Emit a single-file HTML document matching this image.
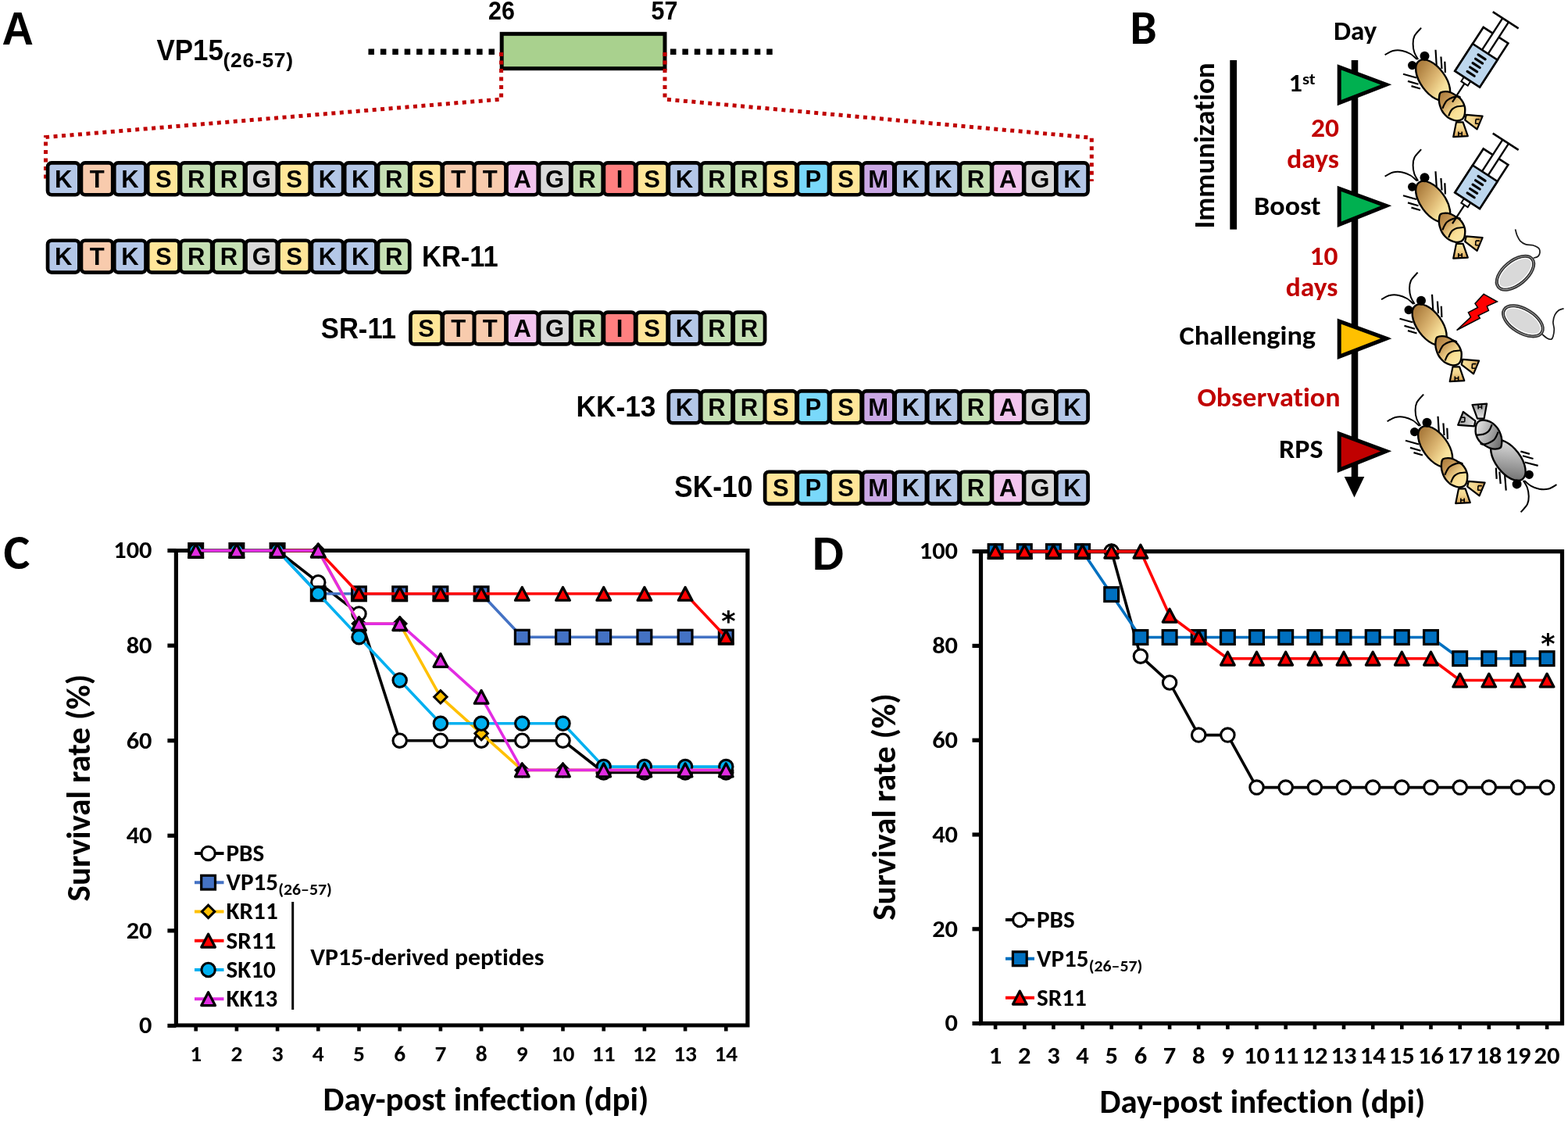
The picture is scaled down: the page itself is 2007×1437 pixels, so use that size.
<!DOCTYPE html>
<html><head><meta charset="utf-8"><title>Figure</title>
<style>
html,body{margin:0;padding:0;background:#fff;}
svg{display:block;font-variant-ligatures:none;}
.res{font-family:"Liberation Sans", Arial, sans-serif;font-weight:bold;font-size:31px;}
</style></head><body>
<svg width="2007" height="1437" viewBox="0 0 2007 1437">
<text transform="translate(2.5,56.5) scale(1,1.07)" font-family='"Liberation Sans", Arial, sans-serif' font-weight="bold" font-size="56" fill="#000" text-anchor="start">A</text>
<text transform="translate(200.5,76.7) scale(0.97,1.05)" font-family='"Liberation Sans", Arial, sans-serif' font-weight="bold" font-size="36">VP15</text>
<text transform="translate(285.5,85.9) scale(1,1.0)" font-family='"Liberation Sans", Arial, sans-serif' font-weight="bold" font-size="26.5" letter-spacing="0.7">(26-57)</text>
<text transform="translate(642,25.2) scale(1,1.08)" font-family='"Liberation Sans", Arial, sans-serif' font-weight="bold" font-size="30.5" fill="#000" text-anchor="middle">26</text>
<text transform="translate(850.5,25.2) scale(1,1.08)" font-family='"Liberation Sans", Arial, sans-serif' font-weight="bold" font-size="30.5" fill="#000" text-anchor="middle">57</text>
<line x1="471.5" y1="66.2" x2="636" y2="66.2" stroke="#000" stroke-width="7.5" stroke-dasharray="7.5 7.9"/>
<line x1="858" y1="66.2" x2="992" y2="66.2" stroke="#000" stroke-width="7.5" stroke-dasharray="7.5 7.9"/>
<rect x="642.2" y="43.3" width="208.8" height="44.4" fill="#A9D18E" stroke="#000" stroke-width="5"/>
<polyline points="641.6,67 641.6,127 58.5,175.5 58.5,232" fill="none" stroke="#C00000" stroke-width="5" stroke-dasharray="5 5.5"/>
<polyline points="851,67 851,127 1397.3,176.3 1397.3,232" fill="none" stroke="#C00000" stroke-width="5" stroke-dasharray="5 5.5"/>
<rect x="61.05" y="208.45" width="40.30" height="40.80" rx="5" fill="#B4C7E7" stroke="#000" stroke-width="4.7"/>
<rect x="103.95" y="208.45" width="40.30" height="40.80" rx="5" fill="#F8CBAD" stroke="#000" stroke-width="4.7"/>
<rect x="146.25" y="208.45" width="40.30" height="40.80" rx="5" fill="#B4C7E7" stroke="#000" stroke-width="4.7"/>
<rect x="189.15" y="208.45" width="40.30" height="40.80" rx="5" fill="#FFE699" stroke="#000" stroke-width="4.7"/>
<rect x="230.95" y="208.45" width="40.30" height="40.80" rx="5" fill="#C5E0B4" stroke="#000" stroke-width="4.7"/>
<rect x="272.75" y="208.45" width="40.30" height="40.80" rx="5" fill="#C5E0B4" stroke="#000" stroke-width="4.7"/>
<rect x="314.55" y="208.45" width="40.30" height="40.80" rx="5" fill="#D9D9D9" stroke="#000" stroke-width="4.7"/>
<rect x="356.45" y="208.45" width="40.30" height="40.80" rx="5" fill="#FFE699" stroke="#000" stroke-width="4.7"/>
<rect x="398.85" y="208.45" width="40.30" height="40.80" rx="5" fill="#B4C7E7" stroke="#000" stroke-width="4.7"/>
<rect x="441.15" y="208.45" width="40.30" height="40.80" rx="5" fill="#B4C7E7" stroke="#000" stroke-width="4.7"/>
<rect x="483.95" y="208.45" width="40.30" height="40.80" rx="5" fill="#C5E0B4" stroke="#000" stroke-width="4.7"/>
<rect x="525.45" y="208.45" width="40.30" height="40.80" rx="5" fill="#FFE699" stroke="#000" stroke-width="4.7"/>
<rect x="566.65" y="208.45" width="40.30" height="40.80" rx="5" fill="#F8CBAD" stroke="#000" stroke-width="4.7"/>
<rect x="607.15" y="208.45" width="40.30" height="40.80" rx="5" fill="#F8CBAD" stroke="#000" stroke-width="4.7"/>
<rect x="648.45" y="208.45" width="40.30" height="40.80" rx="5" fill="#F2C4EE" stroke="#000" stroke-width="4.7"/>
<rect x="689.92" y="208.45" width="40.30" height="40.80" rx="5" fill="#D9D9D9" stroke="#000" stroke-width="4.7"/>
<rect x="731.39" y="208.45" width="40.30" height="40.80" rx="5" fill="#C5E0B4" stroke="#000" stroke-width="4.7"/>
<rect x="772.86" y="208.45" width="40.30" height="40.80" rx="5" fill="#FF8080" stroke="#000" stroke-width="4.7"/>
<rect x="814.34" y="208.45" width="40.30" height="40.80" rx="5" fill="#FFE699" stroke="#000" stroke-width="4.7"/>
<rect x="855.81" y="208.45" width="40.30" height="40.80" rx="5" fill="#B4C7E7" stroke="#000" stroke-width="4.7"/>
<rect x="897.28" y="208.45" width="40.30" height="40.80" rx="5" fill="#C5E0B4" stroke="#000" stroke-width="4.7"/>
<rect x="938.75" y="208.45" width="40.30" height="40.80" rx="5" fill="#C5E0B4" stroke="#000" stroke-width="4.7"/>
<rect x="979.15" y="208.45" width="40.30" height="40.80" rx="5" fill="#FFE699" stroke="#000" stroke-width="4.7"/>
<rect x="1020.77" y="208.45" width="40.30" height="40.80" rx="5" fill="#79D8FA" stroke="#000" stroke-width="4.7"/>
<rect x="1062.38" y="208.45" width="40.30" height="40.80" rx="5" fill="#FFE699" stroke="#000" stroke-width="4.7"/>
<rect x="1104.00" y="208.45" width="40.30" height="40.80" rx="5" fill="#C9A7E4" stroke="#000" stroke-width="4.7"/>
<rect x="1145.62" y="208.45" width="40.30" height="40.80" rx="5" fill="#B4C7E7" stroke="#000" stroke-width="4.7"/>
<rect x="1187.23" y="208.45" width="40.30" height="40.80" rx="5" fill="#B4C7E7" stroke="#000" stroke-width="4.7"/>
<rect x="1228.85" y="208.45" width="40.30" height="40.80" rx="5" fill="#C5E0B4" stroke="#000" stroke-width="4.7"/>
<rect x="1269.95" y="208.45" width="40.30" height="40.80" rx="5" fill="#F2C4EE" stroke="#000" stroke-width="4.7"/>
<rect x="1311.05" y="208.45" width="40.30" height="40.80" rx="5" fill="#D9D9D9" stroke="#000" stroke-width="4.7"/>
<rect x="1352.25" y="208.45" width="40.30" height="40.80" rx="5" fill="#B4C7E7" stroke="#000" stroke-width="4.7"/>
<text x="81.20" y="239.50" text-anchor="middle" class="res">K</text>
<text x="124.10" y="239.50" text-anchor="middle" class="res">T</text>
<text x="166.40" y="239.50" text-anchor="middle" class="res">K</text>
<text x="209.30" y="239.50" text-anchor="middle" class="res">S</text>
<text x="251.10" y="239.50" text-anchor="middle" class="res">R</text>
<text x="292.90" y="239.50" text-anchor="middle" class="res">R</text>
<text x="334.70" y="239.50" text-anchor="middle" class="res">G</text>
<text x="376.60" y="239.50" text-anchor="middle" class="res">S</text>
<text x="419.00" y="239.50" text-anchor="middle" class="res">K</text>
<text x="461.30" y="239.50" text-anchor="middle" class="res">K</text>
<text x="504.10" y="239.50" text-anchor="middle" class="res">R</text>
<text x="545.60" y="239.50" text-anchor="middle" class="res">S</text>
<text x="586.80" y="239.50" text-anchor="middle" class="res">T</text>
<text x="627.30" y="239.50" text-anchor="middle" class="res">T</text>
<text x="668.60" y="239.50" text-anchor="middle" class="res">A</text>
<text x="710.07" y="239.50" text-anchor="middle" class="res">G</text>
<text x="751.54" y="239.50" text-anchor="middle" class="res">R</text>
<text x="793.01" y="239.50" text-anchor="middle" class="res">I</text>
<text x="834.49" y="239.50" text-anchor="middle" class="res">S</text>
<text x="875.96" y="239.50" text-anchor="middle" class="res">K</text>
<text x="917.43" y="239.50" text-anchor="middle" class="res">R</text>
<text x="958.90" y="239.50" text-anchor="middle" class="res">R</text>
<text x="999.30" y="239.50" text-anchor="middle" class="res">S</text>
<text x="1040.92" y="239.50" text-anchor="middle" class="res">P</text>
<text x="1082.53" y="239.50" text-anchor="middle" class="res">S</text>
<text x="1124.15" y="239.50" text-anchor="middle" class="res">M</text>
<text x="1165.77" y="239.50" text-anchor="middle" class="res">K</text>
<text x="1207.38" y="239.50" text-anchor="middle" class="res">K</text>
<text x="1249.00" y="239.50" text-anchor="middle" class="res">R</text>
<text x="1290.10" y="239.50" text-anchor="middle" class="res">A</text>
<text x="1331.20" y="239.50" text-anchor="middle" class="res">G</text>
<text x="1372.40" y="239.50" text-anchor="middle" class="res">K</text>
<rect x="61.05" y="307.75" width="40.30" height="40.80" rx="5" fill="#B4C7E7" stroke="#000" stroke-width="4.7"/>
<rect x="103.95" y="307.75" width="40.30" height="40.80" rx="5" fill="#F8CBAD" stroke="#000" stroke-width="4.7"/>
<rect x="146.25" y="307.75" width="40.30" height="40.80" rx="5" fill="#B4C7E7" stroke="#000" stroke-width="4.7"/>
<rect x="189.15" y="307.75" width="40.30" height="40.80" rx="5" fill="#FFE699" stroke="#000" stroke-width="4.7"/>
<rect x="230.95" y="307.75" width="40.30" height="40.80" rx="5" fill="#C5E0B4" stroke="#000" stroke-width="4.7"/>
<rect x="272.75" y="307.75" width="40.30" height="40.80" rx="5" fill="#C5E0B4" stroke="#000" stroke-width="4.7"/>
<rect x="314.55" y="307.75" width="40.30" height="40.80" rx="5" fill="#D9D9D9" stroke="#000" stroke-width="4.7"/>
<rect x="356.45" y="307.75" width="40.30" height="40.80" rx="5" fill="#FFE699" stroke="#000" stroke-width="4.7"/>
<rect x="398.85" y="307.75" width="40.30" height="40.80" rx="5" fill="#B4C7E7" stroke="#000" stroke-width="4.7"/>
<rect x="441.15" y="307.75" width="40.30" height="40.80" rx="5" fill="#B4C7E7" stroke="#000" stroke-width="4.7"/>
<rect x="483.95" y="307.75" width="40.30" height="40.80" rx="5" fill="#C5E0B4" stroke="#000" stroke-width="4.7"/>
<text x="81.20" y="338.80" text-anchor="middle" class="res">K</text>
<text x="124.10" y="338.80" text-anchor="middle" class="res">T</text>
<text x="166.40" y="338.80" text-anchor="middle" class="res">K</text>
<text x="209.30" y="338.80" text-anchor="middle" class="res">S</text>
<text x="251.10" y="338.80" text-anchor="middle" class="res">R</text>
<text x="292.90" y="338.80" text-anchor="middle" class="res">R</text>
<text x="334.70" y="338.80" text-anchor="middle" class="res">G</text>
<text x="376.60" y="338.80" text-anchor="middle" class="res">S</text>
<text x="419.00" y="338.80" text-anchor="middle" class="res">K</text>
<text x="461.30" y="338.80" text-anchor="middle" class="res">K</text>
<text x="504.10" y="338.80" text-anchor="middle" class="res">R</text>
<text transform="translate(540,340.9) scale(1,1.07)" font-family='"Liberation Sans", Arial, sans-serif' font-weight="bold" font-size="34.5" fill="#000" text-anchor="start">KR-11</text>
<rect x="525.45" y="399.65" width="40.30" height="40.80" rx="5" fill="#FFE699" stroke="#000" stroke-width="4.7"/>
<rect x="566.65" y="399.65" width="40.30" height="40.80" rx="5" fill="#F8CBAD" stroke="#000" stroke-width="4.7"/>
<rect x="607.15" y="399.65" width="40.30" height="40.80" rx="5" fill="#F8CBAD" stroke="#000" stroke-width="4.7"/>
<rect x="648.45" y="399.65" width="40.30" height="40.80" rx="5" fill="#F2C4EE" stroke="#000" stroke-width="4.7"/>
<rect x="689.92" y="399.65" width="40.30" height="40.80" rx="5" fill="#D9D9D9" stroke="#000" stroke-width="4.7"/>
<rect x="731.39" y="399.65" width="40.30" height="40.80" rx="5" fill="#C5E0B4" stroke="#000" stroke-width="4.7"/>
<rect x="772.86" y="399.65" width="40.30" height="40.80" rx="5" fill="#FF8080" stroke="#000" stroke-width="4.7"/>
<rect x="814.34" y="399.65" width="40.30" height="40.80" rx="5" fill="#FFE699" stroke="#000" stroke-width="4.7"/>
<rect x="855.81" y="399.65" width="40.30" height="40.80" rx="5" fill="#B4C7E7" stroke="#000" stroke-width="4.7"/>
<rect x="897.28" y="399.65" width="40.30" height="40.80" rx="5" fill="#C5E0B4" stroke="#000" stroke-width="4.7"/>
<rect x="938.75" y="399.65" width="40.30" height="40.80" rx="5" fill="#C5E0B4" stroke="#000" stroke-width="4.7"/>
<text x="545.60" y="430.70" text-anchor="middle" class="res">S</text>
<text x="586.80" y="430.70" text-anchor="middle" class="res">T</text>
<text x="627.30" y="430.70" text-anchor="middle" class="res">T</text>
<text x="668.60" y="430.70" text-anchor="middle" class="res">A</text>
<text x="710.07" y="430.70" text-anchor="middle" class="res">G</text>
<text x="751.54" y="430.70" text-anchor="middle" class="res">R</text>
<text x="793.01" y="430.70" text-anchor="middle" class="res">I</text>
<text x="834.49" y="430.70" text-anchor="middle" class="res">S</text>
<text x="875.96" y="430.70" text-anchor="middle" class="res">K</text>
<text x="917.43" y="430.70" text-anchor="middle" class="res">R</text>
<text x="958.90" y="430.70" text-anchor="middle" class="res">R</text>
<text transform="translate(410.8,432.7) scale(1,1.07)" font-family='"Liberation Sans", Arial, sans-serif' font-weight="bold" font-size="34.6" fill="#000" text-anchor="start">SR-11</text>
<rect x="855.81" y="500.45" width="40.30" height="40.80" rx="5" fill="#B4C7E7" stroke="#000" stroke-width="4.7"/>
<rect x="897.28" y="500.45" width="40.30" height="40.80" rx="5" fill="#C5E0B4" stroke="#000" stroke-width="4.7"/>
<rect x="938.75" y="500.45" width="40.30" height="40.80" rx="5" fill="#C5E0B4" stroke="#000" stroke-width="4.7"/>
<rect x="979.15" y="500.45" width="40.30" height="40.80" rx="5" fill="#FFE699" stroke="#000" stroke-width="4.7"/>
<rect x="1020.77" y="500.45" width="40.30" height="40.80" rx="5" fill="#79D8FA" stroke="#000" stroke-width="4.7"/>
<rect x="1062.38" y="500.45" width="40.30" height="40.80" rx="5" fill="#FFE699" stroke="#000" stroke-width="4.7"/>
<rect x="1104.00" y="500.45" width="40.30" height="40.80" rx="5" fill="#C9A7E4" stroke="#000" stroke-width="4.7"/>
<rect x="1145.62" y="500.45" width="40.30" height="40.80" rx="5" fill="#B4C7E7" stroke="#000" stroke-width="4.7"/>
<rect x="1187.23" y="500.45" width="40.30" height="40.80" rx="5" fill="#B4C7E7" stroke="#000" stroke-width="4.7"/>
<rect x="1228.85" y="500.45" width="40.30" height="40.80" rx="5" fill="#C5E0B4" stroke="#000" stroke-width="4.7"/>
<rect x="1269.95" y="500.45" width="40.30" height="40.80" rx="5" fill="#F2C4EE" stroke="#000" stroke-width="4.7"/>
<rect x="1311.05" y="500.45" width="40.30" height="40.80" rx="5" fill="#D9D9D9" stroke="#000" stroke-width="4.7"/>
<rect x="1352.25" y="500.45" width="40.30" height="40.80" rx="5" fill="#B4C7E7" stroke="#000" stroke-width="4.7"/>
<text x="875.96" y="531.50" text-anchor="middle" class="res">K</text>
<text x="917.43" y="531.50" text-anchor="middle" class="res">R</text>
<text x="958.90" y="531.50" text-anchor="middle" class="res">R</text>
<text x="999.30" y="531.50" text-anchor="middle" class="res">S</text>
<text x="1040.92" y="531.50" text-anchor="middle" class="res">P</text>
<text x="1082.53" y="531.50" text-anchor="middle" class="res">S</text>
<text x="1124.15" y="531.50" text-anchor="middle" class="res">M</text>
<text x="1165.77" y="531.50" text-anchor="middle" class="res">K</text>
<text x="1207.38" y="531.50" text-anchor="middle" class="res">K</text>
<text x="1249.00" y="531.50" text-anchor="middle" class="res">R</text>
<text x="1290.10" y="531.50" text-anchor="middle" class="res">A</text>
<text x="1331.20" y="531.50" text-anchor="middle" class="res">G</text>
<text x="1372.40" y="531.50" text-anchor="middle" class="res">K</text>
<text transform="translate(737.5,533.4) scale(1,1.07)" font-family='"Liberation Sans", Arial, sans-serif' font-weight="bold" font-size="35.3" fill="#000" text-anchor="start">KK-13</text>
<rect x="979.15" y="603.75" width="40.30" height="40.80" rx="5" fill="#FFE699" stroke="#000" stroke-width="4.7"/>
<rect x="1020.77" y="603.75" width="40.30" height="40.80" rx="5" fill="#79D8FA" stroke="#000" stroke-width="4.7"/>
<rect x="1062.38" y="603.75" width="40.30" height="40.80" rx="5" fill="#FFE699" stroke="#000" stroke-width="4.7"/>
<rect x="1104.00" y="603.75" width="40.30" height="40.80" rx="5" fill="#C9A7E4" stroke="#000" stroke-width="4.7"/>
<rect x="1145.62" y="603.75" width="40.30" height="40.80" rx="5" fill="#B4C7E7" stroke="#000" stroke-width="4.7"/>
<rect x="1187.23" y="603.75" width="40.30" height="40.80" rx="5" fill="#B4C7E7" stroke="#000" stroke-width="4.7"/>
<rect x="1228.85" y="603.75" width="40.30" height="40.80" rx="5" fill="#C5E0B4" stroke="#000" stroke-width="4.7"/>
<rect x="1269.95" y="603.75" width="40.30" height="40.80" rx="5" fill="#F2C4EE" stroke="#000" stroke-width="4.7"/>
<rect x="1311.05" y="603.75" width="40.30" height="40.80" rx="5" fill="#D9D9D9" stroke="#000" stroke-width="4.7"/>
<rect x="1352.25" y="603.75" width="40.30" height="40.80" rx="5" fill="#B4C7E7" stroke="#000" stroke-width="4.7"/>
<text x="999.30" y="634.80" text-anchor="middle" class="res">S</text>
<text x="1040.92" y="634.80" text-anchor="middle" class="res">P</text>
<text x="1082.53" y="634.80" text-anchor="middle" class="res">S</text>
<text x="1124.15" y="634.80" text-anchor="middle" class="res">M</text>
<text x="1165.77" y="634.80" text-anchor="middle" class="res">K</text>
<text x="1207.38" y="634.80" text-anchor="middle" class="res">K</text>
<text x="1249.00" y="634.80" text-anchor="middle" class="res">R</text>
<text x="1290.10" y="634.80" text-anchor="middle" class="res">A</text>
<text x="1331.20" y="634.80" text-anchor="middle" class="res">G</text>
<text x="1372.40" y="634.80" text-anchor="middle" class="res">K</text>
<text transform="translate(863,635.6) scale(1,1.07)" font-family='"Liberation Sans", Arial, sans-serif' font-weight="bold" font-size="35.5" fill="#000" text-anchor="start">SK-10</text>
<text textLength="32.82" lengthAdjust="spacingAndGlyphs" transform="translate(4.5,727.5) scale(1.03,1)" font-family='Carlito, Calibri, "Liberation Sans", sans-serif' font-weight="bold" font-size="62" fill="#000" text-anchor="start">C</text>
<path d="M225.4,1312 L225.4,704.5 L956.9,704.5 L956.9,1312 Z" fill="none" stroke="#000" stroke-width="5.2"/>
<line x1="214.4" y1="1312.5" x2="225.4" y2="1312.5" stroke="#000" stroke-width="5.2"/>
<text textLength="15.21" lengthAdjust="spacingAndGlyphs" transform="translate(194.5,1322.3) scale(1.08,1)" font-family='Carlito, Calibri, "Liberation Sans", sans-serif' font-weight="bold" font-size="30" fill="#000" text-anchor="end">0</text>
<line x1="214.4" y1="1190.9" x2="225.4" y2="1190.9" stroke="#000" stroke-width="5.2"/>
<text textLength="30.42" lengthAdjust="spacingAndGlyphs" transform="translate(194.5,1200.7) scale(1.08,1)" font-family='Carlito, Calibri, "Liberation Sans", sans-serif' font-weight="bold" font-size="30" fill="#000" text-anchor="end">20</text>
<line x1="214.4" y1="1069.3" x2="225.4" y2="1069.3" stroke="#000" stroke-width="5.2"/>
<text textLength="30.42" lengthAdjust="spacingAndGlyphs" transform="translate(194.5,1079.1) scale(1.08,1)" font-family='Carlito, Calibri, "Liberation Sans", sans-serif' font-weight="bold" font-size="30" fill="#000" text-anchor="end">40</text>
<line x1="214.4" y1="947.7" x2="225.4" y2="947.7" stroke="#000" stroke-width="5.2"/>
<text textLength="30.42" lengthAdjust="spacingAndGlyphs" transform="translate(194.5,957.5) scale(1.08,1)" font-family='Carlito, Calibri, "Liberation Sans", sans-serif' font-weight="bold" font-size="30" fill="#000" text-anchor="end">60</text>
<line x1="214.4" y1="826.1" x2="225.4" y2="826.1" stroke="#000" stroke-width="5.2"/>
<text textLength="30.42" lengthAdjust="spacingAndGlyphs" transform="translate(194.5,835.9) scale(1.08,1)" font-family='Carlito, Calibri, "Liberation Sans", sans-serif' font-weight="bold" font-size="30" fill="#000" text-anchor="end">80</text>
<line x1="214.4" y1="704.5" x2="225.4" y2="704.5" stroke="#000" stroke-width="5.2"/>
<text textLength="45.61" lengthAdjust="spacingAndGlyphs" transform="translate(194.5,714.3) scale(1.08,1)" font-family='Carlito, Calibri, "Liberation Sans", sans-serif' font-weight="bold" font-size="30" fill="#000" text-anchor="end">100</text>
<line x1="250.7" y1="1312" x2="250.7" y2="1319.5" stroke="#000" stroke-width="4.6"/>
<text textLength="14.19" lengthAdjust="spacingAndGlyphs" transform="translate(250.7,1357.5) scale(1.05,1)" font-family='Carlito, Calibri, "Liberation Sans", sans-serif' font-weight="bold" font-size="28" fill="#000" text-anchor="middle">1</text>
<line x1="302.9" y1="1312" x2="302.9" y2="1319.5" stroke="#000" stroke-width="4.6"/>
<text textLength="14.19" lengthAdjust="spacingAndGlyphs" transform="translate(302.9,1357.5) scale(1.05,1)" font-family='Carlito, Calibri, "Liberation Sans", sans-serif' font-weight="bold" font-size="28" fill="#000" text-anchor="middle">2</text>
<line x1="355.1" y1="1312" x2="355.1" y2="1319.5" stroke="#000" stroke-width="4.6"/>
<text textLength="14.19" lengthAdjust="spacingAndGlyphs" transform="translate(355.1,1357.5) scale(1.05,1)" font-family='Carlito, Calibri, "Liberation Sans", sans-serif' font-weight="bold" font-size="28" fill="#000" text-anchor="middle">3</text>
<line x1="407.3" y1="1312" x2="407.3" y2="1319.5" stroke="#000" stroke-width="4.6"/>
<text textLength="14.19" lengthAdjust="spacingAndGlyphs" transform="translate(407.3,1357.5) scale(1.05,1)" font-family='Carlito, Calibri, "Liberation Sans", sans-serif' font-weight="bold" font-size="28" fill="#000" text-anchor="middle">4</text>
<line x1="459.5" y1="1312" x2="459.5" y2="1319.5" stroke="#000" stroke-width="4.6"/>
<text textLength="14.19" lengthAdjust="spacingAndGlyphs" transform="translate(459.5,1357.5) scale(1.05,1)" font-family='Carlito, Calibri, "Liberation Sans", sans-serif' font-weight="bold" font-size="28" fill="#000" text-anchor="middle">5</text>
<line x1="511.7" y1="1312" x2="511.7" y2="1319.5" stroke="#000" stroke-width="4.6"/>
<text textLength="14.19" lengthAdjust="spacingAndGlyphs" transform="translate(511.7,1357.5) scale(1.05,1)" font-family='Carlito, Calibri, "Liberation Sans", sans-serif' font-weight="bold" font-size="28" fill="#000" text-anchor="middle">6</text>
<line x1="563.9" y1="1312" x2="563.9" y2="1319.5" stroke="#000" stroke-width="4.6"/>
<text textLength="14.19" lengthAdjust="spacingAndGlyphs" transform="translate(563.9,1357.5) scale(1.05,1)" font-family='Carlito, Calibri, "Liberation Sans", sans-serif' font-weight="bold" font-size="28" fill="#000" text-anchor="middle">7</text>
<line x1="616.1" y1="1312" x2="616.1" y2="1319.5" stroke="#000" stroke-width="4.6"/>
<text textLength="14.19" lengthAdjust="spacingAndGlyphs" transform="translate(616.1,1357.5) scale(1.05,1)" font-family='Carlito, Calibri, "Liberation Sans", sans-serif' font-weight="bold" font-size="28" fill="#000" text-anchor="middle">8</text>
<line x1="668.3" y1="1312" x2="668.3" y2="1319.5" stroke="#000" stroke-width="4.6"/>
<text textLength="14.19" lengthAdjust="spacingAndGlyphs" transform="translate(668.3,1357.5) scale(1.05,1)" font-family='Carlito, Calibri, "Liberation Sans", sans-serif' font-weight="bold" font-size="28" fill="#000" text-anchor="middle">9</text>
<line x1="720.5" y1="1312" x2="720.5" y2="1319.5" stroke="#000" stroke-width="4.6"/>
<text textLength="28.38" lengthAdjust="spacingAndGlyphs" transform="translate(720.5,1357.5) scale(1.05,1)" font-family='Carlito, Calibri, "Liberation Sans", sans-serif' font-weight="bold" font-size="28" fill="#000" text-anchor="middle">10</text>
<line x1="772.7" y1="1312" x2="772.7" y2="1319.5" stroke="#000" stroke-width="4.6"/>
<text textLength="28.38" lengthAdjust="spacingAndGlyphs" transform="translate(772.7,1357.5) scale(1.05,1)" font-family='Carlito, Calibri, "Liberation Sans", sans-serif' font-weight="bold" font-size="28" fill="#000" text-anchor="middle">11</text>
<line x1="824.9" y1="1312" x2="824.9" y2="1319.5" stroke="#000" stroke-width="4.6"/>
<text textLength="28.38" lengthAdjust="spacingAndGlyphs" transform="translate(824.9,1357.5) scale(1.05,1)" font-family='Carlito, Calibri, "Liberation Sans", sans-serif' font-weight="bold" font-size="28" fill="#000" text-anchor="middle">12</text>
<line x1="877.1" y1="1312" x2="877.1" y2="1319.5" stroke="#000" stroke-width="4.6"/>
<text textLength="28.38" lengthAdjust="spacingAndGlyphs" transform="translate(877.1,1357.5) scale(1.05,1)" font-family='Carlito, Calibri, "Liberation Sans", sans-serif' font-weight="bold" font-size="28" fill="#000" text-anchor="middle">13</text>
<line x1="929.3" y1="1312" x2="929.3" y2="1319.5" stroke="#000" stroke-width="4.6"/>
<text textLength="28.38" lengthAdjust="spacingAndGlyphs" transform="translate(929.3,1357.5) scale(1.05,1)" font-family='Carlito, Calibri, "Liberation Sans", sans-serif' font-weight="bold" font-size="28" fill="#000" text-anchor="middle">14</text>
<text textLength="283.42" lengthAdjust="spacingAndGlyphs" transform="translate(115,1008.2) rotate(-90) scale(1.025,1)" font-family='Carlito, Calibri, "Liberation Sans", sans-serif' font-weight="bold" font-size="42" fill="#000" text-anchor="middle">Survival rate (%)</text>
<text textLength="408.74" lengthAdjust="spacingAndGlyphs" transform="translate(622,1421) scale(1.02,1)" font-family='Carlito, Calibri, "Liberation Sans", sans-serif' font-weight="bold" font-size="42" fill="#000" text-anchor="middle">Day-post infection (dpi)</text>
<polyline points="250.7,704.5 302.9,704.5 355.1,704.5 407.3,745.2 459.5,785.4 511.7,947.7 563.9,947.7 616.1,947.7 668.3,947.7 720.5,947.7 772.7,988.4 824.9,988.4 877.1,988.4 929.3,988.4" fill="none" stroke="#000" stroke-width="3.6" stroke-linejoin="round"/>
<circle cx="250.7" cy="704.5" r="8.7" fill="#fff" stroke="#000" stroke-width="3.1"/>
<circle cx="302.9" cy="704.5" r="8.7" fill="#fff" stroke="#000" stroke-width="3.1"/>
<circle cx="355.1" cy="704.5" r="8.7" fill="#fff" stroke="#000" stroke-width="3.1"/>
<circle cx="407.3" cy="745.2" r="8.7" fill="#fff" stroke="#000" stroke-width="3.1"/>
<circle cx="459.5" cy="785.4" r="8.7" fill="#fff" stroke="#000" stroke-width="3.1"/>
<circle cx="511.7" cy="947.7" r="8.7" fill="#fff" stroke="#000" stroke-width="3.1"/>
<circle cx="563.9" cy="947.7" r="8.7" fill="#fff" stroke="#000" stroke-width="3.1"/>
<circle cx="616.1" cy="947.7" r="8.7" fill="#fff" stroke="#000" stroke-width="3.1"/>
<circle cx="668.3" cy="947.7" r="8.7" fill="#fff" stroke="#000" stroke-width="3.1"/>
<circle cx="720.5" cy="947.7" r="8.7" fill="#fff" stroke="#000" stroke-width="3.1"/>
<circle cx="772.7" cy="988.4" r="8.7" fill="#fff" stroke="#000" stroke-width="3.1"/>
<circle cx="824.9" cy="988.4" r="8.7" fill="#fff" stroke="#000" stroke-width="3.1"/>
<circle cx="877.1" cy="988.4" r="8.7" fill="#fff" stroke="#000" stroke-width="3.1"/>
<circle cx="929.3" cy="988.4" r="8.7" fill="#fff" stroke="#000" stroke-width="3.1"/>
<polyline points="250.7,704.5 302.9,704.5 355.1,704.5 407.3,759.8 459.5,759.8 511.7,759.8 563.9,759.8 616.1,759.8 668.3,815.2 720.5,815.2 772.7,815.2 824.9,815.2 877.1,815.2 929.3,815.2" fill="none" stroke="#4472C4" stroke-width="3.6" stroke-linejoin="round"/>
<rect x="241.8" y="695.6" width="17.8" height="17.8" fill="#4472C4" stroke="#000" stroke-width="3.2"/>
<rect x="294.0" y="695.6" width="17.8" height="17.8" fill="#4472C4" stroke="#000" stroke-width="3.2"/>
<rect x="346.2" y="695.6" width="17.8" height="17.8" fill="#4472C4" stroke="#000" stroke-width="3.2"/>
<rect x="398.4" y="750.9" width="17.8" height="17.8" fill="#4472C4" stroke="#000" stroke-width="3.2"/>
<rect x="450.6" y="750.9" width="17.8" height="17.8" fill="#4472C4" stroke="#000" stroke-width="3.2"/>
<rect x="502.8" y="750.9" width="17.8" height="17.8" fill="#4472C4" stroke="#000" stroke-width="3.2"/>
<rect x="555.0" y="750.9" width="17.8" height="17.8" fill="#4472C4" stroke="#000" stroke-width="3.2"/>
<rect x="607.2" y="750.9" width="17.8" height="17.8" fill="#4472C4" stroke="#000" stroke-width="3.2"/>
<rect x="659.4" y="806.3" width="17.8" height="17.8" fill="#4472C4" stroke="#000" stroke-width="3.2"/>
<rect x="711.6" y="806.3" width="17.8" height="17.8" fill="#4472C4" stroke="#000" stroke-width="3.2"/>
<rect x="763.8" y="806.3" width="17.8" height="17.8" fill="#4472C4" stroke="#000" stroke-width="3.2"/>
<rect x="816.0" y="806.3" width="17.8" height="17.8" fill="#4472C4" stroke="#000" stroke-width="3.2"/>
<rect x="868.2" y="806.3" width="17.8" height="17.8" fill="#4472C4" stroke="#000" stroke-width="3.2"/>
<rect x="920.4" y="806.3" width="17.8" height="17.8" fill="#4472C4" stroke="#000" stroke-width="3.2"/>
<polyline points="250.7,704.5 302.9,704.5 355.1,704.5 407.3,704.5 459.5,798.1 511.7,798.1 563.9,891.8 616.1,938.6 668.3,985.4 720.5,985.4 772.7,985.4 824.9,985.4 877.1,985.4 929.3,985.4" fill="none" stroke="#FFC000" stroke-width="3.6" stroke-linejoin="round"/>
<path d="M250.7,696.3 L258.9,704.5 L250.7,712.7 L242.5,704.5 Z" fill="#FFC000" stroke="#000" stroke-width="3"/>
<path d="M302.9,696.3 L311.1,704.5 L302.9,712.7 L294.7,704.5 Z" fill="#FFC000" stroke="#000" stroke-width="3"/>
<path d="M355.1,696.3 L363.3,704.5 L355.1,712.7 L346.9,704.5 Z" fill="#FFC000" stroke="#000" stroke-width="3"/>
<path d="M407.3,696.3 L415.5,704.5 L407.3,712.7 L399.1,704.5 Z" fill="#FFC000" stroke="#000" stroke-width="3"/>
<path d="M459.5,789.9 L467.7,798.1 L459.5,806.3 L451.3,798.1 Z" fill="#FFC000" stroke="#000" stroke-width="3"/>
<path d="M511.7,789.9 L519.9,798.1 L511.7,806.3 L503.5,798.1 Z" fill="#FFC000" stroke="#000" stroke-width="3"/>
<path d="M563.9,883.6 L572.1,891.8 L563.9,900.0 L555.7,891.8 Z" fill="#FFC000" stroke="#000" stroke-width="3"/>
<path d="M616.1,930.4 L624.3,938.6 L616.1,946.8 L607.9,938.6 Z" fill="#FFC000" stroke="#000" stroke-width="3"/>
<path d="M668.3,977.2 L676.5,985.4 L668.3,993.6 L660.1,985.4 Z" fill="#FFC000" stroke="#000" stroke-width="3"/>
<path d="M720.5,977.2 L728.7,985.4 L720.5,993.6 L712.3,985.4 Z" fill="#FFC000" stroke="#000" stroke-width="3"/>
<path d="M772.7,977.2 L780.9,985.4 L772.7,993.6 L764.5,985.4 Z" fill="#FFC000" stroke="#000" stroke-width="3"/>
<path d="M824.9,977.2 L833.1,985.4 L824.9,993.6 L816.7,985.4 Z" fill="#FFC000" stroke="#000" stroke-width="3"/>
<path d="M877.1,977.2 L885.3,985.4 L877.1,993.6 L868.9,985.4 Z" fill="#FFC000" stroke="#000" stroke-width="3"/>
<path d="M929.3,977.2 L937.5,985.4 L929.3,993.6 L921.1,985.4 Z" fill="#FFC000" stroke="#000" stroke-width="3"/>
<polyline points="250.7,704.5 302.9,704.5 355.1,704.5 407.3,704.5 459.5,759.8 511.7,759.8 563.9,759.8 616.1,759.8 668.3,759.8 720.5,759.8 772.7,759.8 824.9,759.8 877.1,759.8 929.3,815.2" fill="none" stroke="#FF0000" stroke-width="3.6" stroke-linejoin="round"/>
<path d="M250.7,696.1 L259.5,712.9 L241.9,712.9 Z" fill="#FF0000" stroke="#000" stroke-width="3.3" stroke-linejoin="round"/>
<path d="M302.9,696.1 L311.7,712.9 L294.1,712.9 Z" fill="#FF0000" stroke="#000" stroke-width="3.3" stroke-linejoin="round"/>
<path d="M355.1,696.1 L363.9,712.9 L346.3,712.9 Z" fill="#FF0000" stroke="#000" stroke-width="3.3" stroke-linejoin="round"/>
<path d="M407.3,696.1 L416.1,712.9 L398.5,712.9 Z" fill="#FF0000" stroke="#000" stroke-width="3.3" stroke-linejoin="round"/>
<path d="M459.5,751.4 L468.3,768.2 L450.7,768.2 Z" fill="#FF0000" stroke="#000" stroke-width="3.3" stroke-linejoin="round"/>
<path d="M511.7,751.4 L520.5,768.2 L502.9,768.2 Z" fill="#FF0000" stroke="#000" stroke-width="3.3" stroke-linejoin="round"/>
<path d="M563.9,751.4 L572.7,768.2 L555.1,768.2 Z" fill="#FF0000" stroke="#000" stroke-width="3.3" stroke-linejoin="round"/>
<path d="M616.1,751.4 L624.9,768.2 L607.3,768.2 Z" fill="#FF0000" stroke="#000" stroke-width="3.3" stroke-linejoin="round"/>
<path d="M668.3,751.4 L677.1,768.2 L659.5,768.2 Z" fill="#FF0000" stroke="#000" stroke-width="3.3" stroke-linejoin="round"/>
<path d="M720.5,751.4 L729.3,768.2 L711.7,768.2 Z" fill="#FF0000" stroke="#000" stroke-width="3.3" stroke-linejoin="round"/>
<path d="M772.7,751.4 L781.5,768.2 L763.9,768.2 Z" fill="#FF0000" stroke="#000" stroke-width="3.3" stroke-linejoin="round"/>
<path d="M824.9,751.4 L833.7,768.2 L816.1,768.2 Z" fill="#FF0000" stroke="#000" stroke-width="3.3" stroke-linejoin="round"/>
<path d="M877.1,751.4 L885.9,768.2 L868.3,768.2 Z" fill="#FF0000" stroke="#000" stroke-width="3.3" stroke-linejoin="round"/>
<path d="M929.3,806.8 L938.1,823.6 L920.5,823.6 Z" fill="#FF0000" stroke="#000" stroke-width="3.3" stroke-linejoin="round"/>
<polyline points="250.7,704.5 302.9,704.5 355.1,704.5 407.3,759.8 459.5,815.2 511.7,870.5 563.9,925.8 616.1,925.8 668.3,925.8 720.5,925.8 772.7,981.1 824.9,981.1 877.1,981.1 929.3,981.1" fill="none" stroke="#00B0F0" stroke-width="3.6" stroke-linejoin="round"/>
<circle cx="250.7" cy="704.5" r="8.7" fill="#00B0F0" stroke="#000" stroke-width="3.1"/>
<circle cx="302.9" cy="704.5" r="8.7" fill="#00B0F0" stroke="#000" stroke-width="3.1"/>
<circle cx="355.1" cy="704.5" r="8.7" fill="#00B0F0" stroke="#000" stroke-width="3.1"/>
<circle cx="407.3" cy="759.8" r="8.7" fill="#00B0F0" stroke="#000" stroke-width="3.1"/>
<circle cx="459.5" cy="815.2" r="8.7" fill="#00B0F0" stroke="#000" stroke-width="3.1"/>
<circle cx="511.7" cy="870.5" r="8.7" fill="#00B0F0" stroke="#000" stroke-width="3.1"/>
<circle cx="563.9" cy="925.8" r="8.7" fill="#00B0F0" stroke="#000" stroke-width="3.1"/>
<circle cx="616.1" cy="925.8" r="8.7" fill="#00B0F0" stroke="#000" stroke-width="3.1"/>
<circle cx="668.3" cy="925.8" r="8.7" fill="#00B0F0" stroke="#000" stroke-width="3.1"/>
<circle cx="720.5" cy="925.8" r="8.7" fill="#00B0F0" stroke="#000" stroke-width="3.1"/>
<circle cx="772.7" cy="981.1" r="8.7" fill="#00B0F0" stroke="#000" stroke-width="3.1"/>
<circle cx="824.9" cy="981.1" r="8.7" fill="#00B0F0" stroke="#000" stroke-width="3.1"/>
<circle cx="877.1" cy="981.1" r="8.7" fill="#00B0F0" stroke="#000" stroke-width="3.1"/>
<circle cx="929.3" cy="981.1" r="8.7" fill="#00B0F0" stroke="#000" stroke-width="3.1"/>
<polyline points="250.7,704.5 302.9,704.5 355.1,704.5 407.3,704.5 459.5,798.1 511.7,798.1 563.9,844.9 616.1,891.8 668.3,985.4 720.5,985.4 772.7,985.4 824.9,985.4 877.1,985.4 929.3,985.4" fill="none" stroke="#E22CE2" stroke-width="3.6" stroke-linejoin="round"/>
<path d="M250.7,696.1 L259.5,712.9 L241.9,712.9 Z" fill="#E22CE2" stroke="#000" stroke-width="3.3" stroke-linejoin="round"/>
<path d="M302.9,696.1 L311.7,712.9 L294.1,712.9 Z" fill="#E22CE2" stroke="#000" stroke-width="3.3" stroke-linejoin="round"/>
<path d="M355.1,696.1 L363.9,712.9 L346.3,712.9 Z" fill="#E22CE2" stroke="#000" stroke-width="3.3" stroke-linejoin="round"/>
<path d="M407.3,696.1 L416.1,712.9 L398.5,712.9 Z" fill="#E22CE2" stroke="#000" stroke-width="3.3" stroke-linejoin="round"/>
<path d="M459.5,789.7 L468.3,806.5 L450.7,806.5 Z" fill="#E22CE2" stroke="#000" stroke-width="3.3" stroke-linejoin="round"/>
<path d="M511.7,789.7 L520.5,806.5 L502.9,806.5 Z" fill="#E22CE2" stroke="#000" stroke-width="3.3" stroke-linejoin="round"/>
<path d="M563.9,836.5 L572.7,853.3 L555.1,853.3 Z" fill="#E22CE2" stroke="#000" stroke-width="3.3" stroke-linejoin="round"/>
<path d="M616.1,883.4 L624.9,900.2 L607.3,900.2 Z" fill="#E22CE2" stroke="#000" stroke-width="3.3" stroke-linejoin="round"/>
<path d="M668.3,977.0 L677.1,993.8 L659.5,993.8 Z" fill="#E22CE2" stroke="#000" stroke-width="3.3" stroke-linejoin="round"/>
<path d="M720.5,977.0 L729.3,993.8 L711.7,993.8 Z" fill="#E22CE2" stroke="#000" stroke-width="3.3" stroke-linejoin="round"/>
<path d="M772.7,977.0 L781.5,993.8 L763.9,993.8 Z" fill="#E22CE2" stroke="#000" stroke-width="3.3" stroke-linejoin="round"/>
<path d="M824.9,977.0 L833.7,993.8 L816.1,993.8 Z" fill="#E22CE2" stroke="#000" stroke-width="3.3" stroke-linejoin="round"/>
<path d="M877.1,977.0 L885.9,993.8 L868.3,993.8 Z" fill="#E22CE2" stroke="#000" stroke-width="3.3" stroke-linejoin="round"/>
<path d="M929.3,977.0 L938.1,993.8 L920.5,993.8 Z" fill="#E22CE2" stroke="#000" stroke-width="3.3" stroke-linejoin="round"/>
<text x="932.5" y="807.4" text-anchor="middle" font-family="DejaVu Sans, sans-serif" font-weight="bold" font-size="35">*</text>
<text textLength="39.08" lengthAdjust="spacingAndGlyphs" transform="translate(1039.7,728.5) scale(1.03,1)" font-family='Carlito, Calibri, "Liberation Sans", sans-serif' font-weight="bold" font-size="62" fill="#000" text-anchor="start">D</text>
<path d="M1255.5,1309.6 L1255.5,705.6 L1999.5,705.6 L1999.5,1309.6 Z" fill="none" stroke="#000" stroke-width="5.2"/>
<line x1="1244.5" y1="1309.6" x2="1255.5" y2="1309.6" stroke="#000" stroke-width="5.2"/>
<text textLength="15.21" lengthAdjust="spacingAndGlyphs" transform="translate(1226,1319.4) scale(1.08,1)" font-family='Carlito, Calibri, "Liberation Sans", sans-serif' font-weight="bold" font-size="30" fill="#000" text-anchor="end">0</text>
<line x1="1244.5" y1="1188.8" x2="1255.5" y2="1188.8" stroke="#000" stroke-width="5.2"/>
<text textLength="30.42" lengthAdjust="spacingAndGlyphs" transform="translate(1226,1198.6) scale(1.08,1)" font-family='Carlito, Calibri, "Liberation Sans", sans-serif' font-weight="bold" font-size="30" fill="#000" text-anchor="end">20</text>
<line x1="1244.5" y1="1068.0" x2="1255.5" y2="1068.0" stroke="#000" stroke-width="5.2"/>
<text textLength="30.42" lengthAdjust="spacingAndGlyphs" transform="translate(1226,1077.8) scale(1.08,1)" font-family='Carlito, Calibri, "Liberation Sans", sans-serif' font-weight="bold" font-size="30" fill="#000" text-anchor="end">40</text>
<line x1="1244.5" y1="947.2" x2="1255.5" y2="947.2" stroke="#000" stroke-width="5.2"/>
<text textLength="30.42" lengthAdjust="spacingAndGlyphs" transform="translate(1226,957.0) scale(1.08,1)" font-family='Carlito, Calibri, "Liberation Sans", sans-serif' font-weight="bold" font-size="30" fill="#000" text-anchor="end">60</text>
<line x1="1244.5" y1="826.4" x2="1255.5" y2="826.4" stroke="#000" stroke-width="5.2"/>
<text textLength="30.42" lengthAdjust="spacingAndGlyphs" transform="translate(1226,836.2) scale(1.08,1)" font-family='Carlito, Calibri, "Liberation Sans", sans-serif' font-weight="bold" font-size="30" fill="#000" text-anchor="end">80</text>
<line x1="1244.5" y1="705.6" x2="1255.5" y2="705.6" stroke="#000" stroke-width="5.2"/>
<text textLength="45.61" lengthAdjust="spacingAndGlyphs" transform="translate(1226,715.4) scale(1.08,1)" font-family='Carlito, Calibri, "Liberation Sans", sans-serif' font-weight="bold" font-size="30" fill="#000" text-anchor="end">100</text>
<line x1="1274.1" y1="1309.6" x2="1274.1" y2="1317.1" stroke="#000" stroke-width="4.6"/>
<text textLength="15.71" lengthAdjust="spacingAndGlyphs" transform="translate(1274.1,1360.6) scale(1.05,1)" font-family='Carlito, Calibri, "Liberation Sans", sans-serif' font-weight="bold" font-size="31" fill="#000" text-anchor="middle">1</text>
<line x1="1311.3" y1="1309.6" x2="1311.3" y2="1317.1" stroke="#000" stroke-width="4.6"/>
<text textLength="15.71" lengthAdjust="spacingAndGlyphs" transform="translate(1311.3,1360.6) scale(1.05,1)" font-family='Carlito, Calibri, "Liberation Sans", sans-serif' font-weight="bold" font-size="31" fill="#000" text-anchor="middle">2</text>
<line x1="1348.4" y1="1309.6" x2="1348.4" y2="1317.1" stroke="#000" stroke-width="4.6"/>
<text textLength="15.71" lengthAdjust="spacingAndGlyphs" transform="translate(1348.4,1360.6) scale(1.05,1)" font-family='Carlito, Calibri, "Liberation Sans", sans-serif' font-weight="bold" font-size="31" fill="#000" text-anchor="middle">3</text>
<line x1="1385.6" y1="1309.6" x2="1385.6" y2="1317.1" stroke="#000" stroke-width="4.6"/>
<text textLength="15.71" lengthAdjust="spacingAndGlyphs" transform="translate(1385.6,1360.6) scale(1.05,1)" font-family='Carlito, Calibri, "Liberation Sans", sans-serif' font-weight="bold" font-size="31" fill="#000" text-anchor="middle">4</text>
<line x1="1422.7" y1="1309.6" x2="1422.7" y2="1317.1" stroke="#000" stroke-width="4.6"/>
<text textLength="15.71" lengthAdjust="spacingAndGlyphs" transform="translate(1422.7,1360.6) scale(1.05,1)" font-family='Carlito, Calibri, "Liberation Sans", sans-serif' font-weight="bold" font-size="31" fill="#000" text-anchor="middle">5</text>
<line x1="1459.9" y1="1309.6" x2="1459.9" y2="1317.1" stroke="#000" stroke-width="4.6"/>
<text textLength="15.71" lengthAdjust="spacingAndGlyphs" transform="translate(1459.9,1360.6) scale(1.05,1)" font-family='Carlito, Calibri, "Liberation Sans", sans-serif' font-weight="bold" font-size="31" fill="#000" text-anchor="middle">6</text>
<line x1="1497.1" y1="1309.6" x2="1497.1" y2="1317.1" stroke="#000" stroke-width="4.6"/>
<text textLength="15.71" lengthAdjust="spacingAndGlyphs" transform="translate(1497.1,1360.6) scale(1.05,1)" font-family='Carlito, Calibri, "Liberation Sans", sans-serif' font-weight="bold" font-size="31" fill="#000" text-anchor="middle">7</text>
<line x1="1534.2" y1="1309.6" x2="1534.2" y2="1317.1" stroke="#000" stroke-width="4.6"/>
<text textLength="15.71" lengthAdjust="spacingAndGlyphs" transform="translate(1534.2,1360.6) scale(1.05,1)" font-family='Carlito, Calibri, "Liberation Sans", sans-serif' font-weight="bold" font-size="31" fill="#000" text-anchor="middle">8</text>
<line x1="1571.4" y1="1309.6" x2="1571.4" y2="1317.1" stroke="#000" stroke-width="4.6"/>
<text textLength="15.71" lengthAdjust="spacingAndGlyphs" transform="translate(1571.4,1360.6) scale(1.05,1)" font-family='Carlito, Calibri, "Liberation Sans", sans-serif' font-weight="bold" font-size="31" fill="#000" text-anchor="middle">9</text>
<line x1="1608.5" y1="1309.6" x2="1608.5" y2="1317.1" stroke="#000" stroke-width="4.6"/>
<text textLength="31.41" lengthAdjust="spacingAndGlyphs" transform="translate(1608.5,1360.6) scale(1.05,1)" font-family='Carlito, Calibri, "Liberation Sans", sans-serif' font-weight="bold" font-size="31" fill="#000" text-anchor="middle">10</text>
<line x1="1645.7" y1="1309.6" x2="1645.7" y2="1317.1" stroke="#000" stroke-width="4.6"/>
<text textLength="31.41" lengthAdjust="spacingAndGlyphs" transform="translate(1645.7,1360.6) scale(1.05,1)" font-family='Carlito, Calibri, "Liberation Sans", sans-serif' font-weight="bold" font-size="31" fill="#000" text-anchor="middle">11</text>
<line x1="1682.9" y1="1309.6" x2="1682.9" y2="1317.1" stroke="#000" stroke-width="4.6"/>
<text textLength="31.41" lengthAdjust="spacingAndGlyphs" transform="translate(1682.9,1360.6) scale(1.05,1)" font-family='Carlito, Calibri, "Liberation Sans", sans-serif' font-weight="bold" font-size="31" fill="#000" text-anchor="middle">12</text>
<line x1="1720.0" y1="1309.6" x2="1720.0" y2="1317.1" stroke="#000" stroke-width="4.6"/>
<text textLength="31.41" lengthAdjust="spacingAndGlyphs" transform="translate(1720.0,1360.6) scale(1.05,1)" font-family='Carlito, Calibri, "Liberation Sans", sans-serif' font-weight="bold" font-size="31" fill="#000" text-anchor="middle">13</text>
<line x1="1757.2" y1="1309.6" x2="1757.2" y2="1317.1" stroke="#000" stroke-width="4.6"/>
<text textLength="31.41" lengthAdjust="spacingAndGlyphs" transform="translate(1757.2,1360.6) scale(1.05,1)" font-family='Carlito, Calibri, "Liberation Sans", sans-serif' font-weight="bold" font-size="31" fill="#000" text-anchor="middle">14</text>
<line x1="1794.3" y1="1309.6" x2="1794.3" y2="1317.1" stroke="#000" stroke-width="4.6"/>
<text textLength="31.41" lengthAdjust="spacingAndGlyphs" transform="translate(1794.3,1360.6) scale(1.05,1)" font-family='Carlito, Calibri, "Liberation Sans", sans-serif' font-weight="bold" font-size="31" fill="#000" text-anchor="middle">15</text>
<line x1="1831.5" y1="1309.6" x2="1831.5" y2="1317.1" stroke="#000" stroke-width="4.6"/>
<text textLength="31.41" lengthAdjust="spacingAndGlyphs" transform="translate(1831.5,1360.6) scale(1.05,1)" font-family='Carlito, Calibri, "Liberation Sans", sans-serif' font-weight="bold" font-size="31" fill="#000" text-anchor="middle">16</text>
<line x1="1868.7" y1="1309.6" x2="1868.7" y2="1317.1" stroke="#000" stroke-width="4.6"/>
<text textLength="31.41" lengthAdjust="spacingAndGlyphs" transform="translate(1868.7,1360.6) scale(1.05,1)" font-family='Carlito, Calibri, "Liberation Sans", sans-serif' font-weight="bold" font-size="31" fill="#000" text-anchor="middle">17</text>
<line x1="1905.8" y1="1309.6" x2="1905.8" y2="1317.1" stroke="#000" stroke-width="4.6"/>
<text textLength="31.41" lengthAdjust="spacingAndGlyphs" transform="translate(1905.8,1360.6) scale(1.05,1)" font-family='Carlito, Calibri, "Liberation Sans", sans-serif' font-weight="bold" font-size="31" fill="#000" text-anchor="middle">18</text>
<line x1="1943.0" y1="1309.6" x2="1943.0" y2="1317.1" stroke="#000" stroke-width="4.6"/>
<text textLength="31.41" lengthAdjust="spacingAndGlyphs" transform="translate(1943.0,1360.6) scale(1.05,1)" font-family='Carlito, Calibri, "Liberation Sans", sans-serif' font-weight="bold" font-size="31" fill="#000" text-anchor="middle">19</text>
<line x1="1980.1" y1="1309.6" x2="1980.1" y2="1317.1" stroke="#000" stroke-width="4.6"/>
<text textLength="31.41" lengthAdjust="spacingAndGlyphs" transform="translate(1980.1,1360.6) scale(1.05,1)" font-family='Carlito, Calibri, "Liberation Sans", sans-serif' font-weight="bold" font-size="31" fill="#000" text-anchor="middle">20</text>
<text textLength="283.42" lengthAdjust="spacingAndGlyphs" transform="translate(1146,1032.5) rotate(-90) scale(1.025,1)" font-family='Carlito, Calibri, "Liberation Sans", sans-serif' font-weight="bold" font-size="42" fill="#000" text-anchor="middle">Survival rate (%)</text>
<text textLength="408.74" lengthAdjust="spacingAndGlyphs" transform="translate(1616,1423.5) scale(1.02,1)" font-family='Carlito, Calibri, "Liberation Sans", sans-serif' font-weight="bold" font-size="42" fill="#000" text-anchor="middle">Day-post infection (dpi)</text>
<polyline points="1274.1,705.6 1311.3,705.6 1348.4,705.6 1385.6,705.6 1422.7,705.6 1459.9,839.7 1497.1,873.5 1534.2,940.6 1571.4,940.6 1608.5,1007.6 1645.7,1007.6 1682.9,1007.6 1720.0,1007.6 1757.2,1007.6 1794.3,1007.6 1831.5,1007.6 1868.7,1007.6 1905.8,1007.6 1943.0,1007.6 1980.1,1007.6" fill="none" stroke="#000" stroke-width="3.6" stroke-linejoin="round"/>
<circle cx="1274.1" cy="705.6" r="8.7" fill="#fff" stroke="#000" stroke-width="3.1"/>
<circle cx="1311.3" cy="705.6" r="8.7" fill="#fff" stroke="#000" stroke-width="3.1"/>
<circle cx="1348.4" cy="705.6" r="8.7" fill="#fff" stroke="#000" stroke-width="3.1"/>
<circle cx="1385.6" cy="705.6" r="8.7" fill="#fff" stroke="#000" stroke-width="3.1"/>
<circle cx="1422.7" cy="705.6" r="8.7" fill="#fff" stroke="#000" stroke-width="3.1"/>
<circle cx="1459.9" cy="839.7" r="8.7" fill="#fff" stroke="#000" stroke-width="3.1"/>
<circle cx="1497.1" cy="873.5" r="8.7" fill="#fff" stroke="#000" stroke-width="3.1"/>
<circle cx="1534.2" cy="940.6" r="8.7" fill="#fff" stroke="#000" stroke-width="3.1"/>
<circle cx="1571.4" cy="940.6" r="8.7" fill="#fff" stroke="#000" stroke-width="3.1"/>
<circle cx="1608.5" cy="1007.6" r="8.7" fill="#fff" stroke="#000" stroke-width="3.1"/>
<circle cx="1645.7" cy="1007.6" r="8.7" fill="#fff" stroke="#000" stroke-width="3.1"/>
<circle cx="1682.9" cy="1007.6" r="8.7" fill="#fff" stroke="#000" stroke-width="3.1"/>
<circle cx="1720.0" cy="1007.6" r="8.7" fill="#fff" stroke="#000" stroke-width="3.1"/>
<circle cx="1757.2" cy="1007.6" r="8.7" fill="#fff" stroke="#000" stroke-width="3.1"/>
<circle cx="1794.3" cy="1007.6" r="8.7" fill="#fff" stroke="#000" stroke-width="3.1"/>
<circle cx="1831.5" cy="1007.6" r="8.7" fill="#fff" stroke="#000" stroke-width="3.1"/>
<circle cx="1868.7" cy="1007.6" r="8.7" fill="#fff" stroke="#000" stroke-width="3.1"/>
<circle cx="1905.8" cy="1007.6" r="8.7" fill="#fff" stroke="#000" stroke-width="3.1"/>
<circle cx="1943.0" cy="1007.6" r="8.7" fill="#fff" stroke="#000" stroke-width="3.1"/>
<circle cx="1980.1" cy="1007.6" r="8.7" fill="#fff" stroke="#000" stroke-width="3.1"/>
<polyline points="1274.1,705.6 1311.3,705.6 1348.4,705.6 1385.6,705.6 1422.7,760.6 1459.9,815.5 1497.1,815.5 1534.2,815.5 1571.4,815.5 1608.5,815.5 1645.7,815.5 1682.9,815.5 1720.0,815.5 1757.2,815.5 1794.3,815.5 1831.5,815.5 1868.7,842.7 1905.8,842.7 1943.0,842.7 1980.1,842.7" fill="none" stroke="#0070C0" stroke-width="3.6" stroke-linejoin="round"/>
<rect x="1265.2" y="696.7" width="17.8" height="17.8" fill="#0070C0" stroke="#000" stroke-width="3.2"/>
<rect x="1302.4" y="696.7" width="17.8" height="17.8" fill="#0070C0" stroke="#000" stroke-width="3.2"/>
<rect x="1339.5" y="696.7" width="17.8" height="17.8" fill="#0070C0" stroke="#000" stroke-width="3.2"/>
<rect x="1376.7" y="696.7" width="17.8" height="17.8" fill="#0070C0" stroke="#000" stroke-width="3.2"/>
<rect x="1413.8" y="751.7" width="17.8" height="17.8" fill="#0070C0" stroke="#000" stroke-width="3.2"/>
<rect x="1451.0" y="806.6" width="17.8" height="17.8" fill="#0070C0" stroke="#000" stroke-width="3.2"/>
<rect x="1488.2" y="806.6" width="17.8" height="17.8" fill="#0070C0" stroke="#000" stroke-width="3.2"/>
<rect x="1525.3" y="806.6" width="17.8" height="17.8" fill="#0070C0" stroke="#000" stroke-width="3.2"/>
<rect x="1562.5" y="806.6" width="17.8" height="17.8" fill="#0070C0" stroke="#000" stroke-width="3.2"/>
<rect x="1599.6" y="806.6" width="17.8" height="17.8" fill="#0070C0" stroke="#000" stroke-width="3.2"/>
<rect x="1636.8" y="806.6" width="17.8" height="17.8" fill="#0070C0" stroke="#000" stroke-width="3.2"/>
<rect x="1674.0" y="806.6" width="17.8" height="17.8" fill="#0070C0" stroke="#000" stroke-width="3.2"/>
<rect x="1711.1" y="806.6" width="17.8" height="17.8" fill="#0070C0" stroke="#000" stroke-width="3.2"/>
<rect x="1748.3" y="806.6" width="17.8" height="17.8" fill="#0070C0" stroke="#000" stroke-width="3.2"/>
<rect x="1785.4" y="806.6" width="17.8" height="17.8" fill="#0070C0" stroke="#000" stroke-width="3.2"/>
<rect x="1822.6" y="806.6" width="17.8" height="17.8" fill="#0070C0" stroke="#000" stroke-width="3.2"/>
<rect x="1859.8" y="833.8" width="17.8" height="17.8" fill="#0070C0" stroke="#000" stroke-width="3.2"/>
<rect x="1896.9" y="833.8" width="17.8" height="17.8" fill="#0070C0" stroke="#000" stroke-width="3.2"/>
<rect x="1934.1" y="833.8" width="17.8" height="17.8" fill="#0070C0" stroke="#000" stroke-width="3.2"/>
<rect x="1971.2" y="833.8" width="17.8" height="17.8" fill="#0070C0" stroke="#000" stroke-width="3.2"/>
<polyline points="1274.1,705.6 1311.3,705.6 1348.4,705.6 1385.6,705.6 1422.7,705.6 1459.9,705.6 1497.1,787.7 1534.2,815.5 1571.4,842.7 1608.5,842.7 1645.7,842.7 1682.9,842.7 1720.0,842.7 1757.2,842.7 1794.3,842.7 1831.5,842.7 1868.7,870.5 1905.8,870.5 1943.0,870.5 1980.1,870.5" fill="none" stroke="#FF0000" stroke-width="3.6" stroke-linejoin="round"/>
<path d="M1274.1,697.2 L1282.9,714.0 L1265.3,714.0 Z" fill="#FF0000" stroke="#000" stroke-width="3.3" stroke-linejoin="round"/>
<path d="M1311.3,697.2 L1320.1,714.0 L1302.5,714.0 Z" fill="#FF0000" stroke="#000" stroke-width="3.3" stroke-linejoin="round"/>
<path d="M1348.4,697.2 L1357.2,714.0 L1339.6,714.0 Z" fill="#FF0000" stroke="#000" stroke-width="3.3" stroke-linejoin="round"/>
<path d="M1385.6,697.2 L1394.4,714.0 L1376.8,714.0 Z" fill="#FF0000" stroke="#000" stroke-width="3.3" stroke-linejoin="round"/>
<path d="M1422.7,697.2 L1431.5,714.0 L1413.9,714.0 Z" fill="#FF0000" stroke="#000" stroke-width="3.3" stroke-linejoin="round"/>
<path d="M1459.9,697.2 L1468.7,714.0 L1451.1,714.0 Z" fill="#FF0000" stroke="#000" stroke-width="3.3" stroke-linejoin="round"/>
<path d="M1497.1,779.3 L1505.9,796.1 L1488.3,796.1 Z" fill="#FF0000" stroke="#000" stroke-width="3.3" stroke-linejoin="round"/>
<path d="M1534.2,807.1 L1543.0,823.9 L1525.4,823.9 Z" fill="#FF0000" stroke="#000" stroke-width="3.3" stroke-linejoin="round"/>
<path d="M1571.4,834.3 L1580.2,851.1 L1562.6,851.1 Z" fill="#FF0000" stroke="#000" stroke-width="3.3" stroke-linejoin="round"/>
<path d="M1608.5,834.3 L1617.3,851.1 L1599.7,851.1 Z" fill="#FF0000" stroke="#000" stroke-width="3.3" stroke-linejoin="round"/>
<path d="M1645.7,834.3 L1654.5,851.1 L1636.9,851.1 Z" fill="#FF0000" stroke="#000" stroke-width="3.3" stroke-linejoin="round"/>
<path d="M1682.9,834.3 L1691.7,851.1 L1674.1,851.1 Z" fill="#FF0000" stroke="#000" stroke-width="3.3" stroke-linejoin="round"/>
<path d="M1720.0,834.3 L1728.8,851.1 L1711.2,851.1 Z" fill="#FF0000" stroke="#000" stroke-width="3.3" stroke-linejoin="round"/>
<path d="M1757.2,834.3 L1766.0,851.1 L1748.4,851.1 Z" fill="#FF0000" stroke="#000" stroke-width="3.3" stroke-linejoin="round"/>
<path d="M1794.3,834.3 L1803.1,851.1 L1785.5,851.1 Z" fill="#FF0000" stroke="#000" stroke-width="3.3" stroke-linejoin="round"/>
<path d="M1831.5,834.3 L1840.3,851.1 L1822.7,851.1 Z" fill="#FF0000" stroke="#000" stroke-width="3.3" stroke-linejoin="round"/>
<path d="M1868.7,862.1 L1877.5,878.9 L1859.9,878.9 Z" fill="#FF0000" stroke="#000" stroke-width="3.3" stroke-linejoin="round"/>
<path d="M1905.8,862.1 L1914.6,878.9 L1897.0,878.9 Z" fill="#FF0000" stroke="#000" stroke-width="3.3" stroke-linejoin="round"/>
<path d="M1943.0,862.1 L1951.8,878.9 L1934.2,878.9 Z" fill="#FF0000" stroke="#000" stroke-width="3.3" stroke-linejoin="round"/>
<path d="M1980.1,862.1 L1988.9,878.9 L1971.3,878.9 Z" fill="#FF0000" stroke="#000" stroke-width="3.3" stroke-linejoin="round"/>
<text x="1981.4" y="836" text-anchor="middle" font-family="DejaVu Sans, sans-serif" font-weight="bold" font-size="35">*</text>
<line x1="249" y1="1091.9" x2="286.5" y2="1091.9" stroke="#000" stroke-width="4"/><circle cx="266.6" cy="1091.9" r="8.7" fill="#fff" stroke="#000" stroke-width="3.1"/><text textLength="46.96" lengthAdjust="spacingAndGlyphs" transform="translate(289.5,1101.7) scale(1.04,1)" font-family='Carlito, Calibri, "Liberation Sans", sans-serif' font-weight="bold" font-size="30" fill="#000" text-anchor="start">PBS</text>
<line x1="249" y1="1129.2" x2="286.5" y2="1129.2" stroke="#4472C4" stroke-width="4"/><rect x="257.7" y="1120.3" width="17.8" height="17.8" fill="#4472C4" stroke="#000" stroke-width="3.2"/><text textLength="130.17" lengthAdjust="spacingAndGlyphs" transform="translate(289.5,1139.0) scale(1.04,1)" font-family='Carlito, Calibri, "Liberation Sans", sans-serif' font-weight="bold" font-size="30" fill="#000" text-anchor="start">VP15<tspan font-size="21" dy="6">(26–57)</tspan></text>
<line x1="249" y1="1166.4" x2="286.5" y2="1166.4" stroke="#FFC000" stroke-width="4"/><path d="M266.6,1158.2 L274.8,1166.4 L266.6,1174.6 L258.4,1166.4 Z" fill="#FFC000" stroke="#000" stroke-width="3"/><text textLength="63.68" lengthAdjust="spacingAndGlyphs" transform="translate(289.5,1176.2) scale(1.04,1)" font-family='Carlito, Calibri, "Liberation Sans", sans-serif' font-weight="bold" font-size="30" fill="#000" text-anchor="start">KR11</text>
<line x1="249" y1="1203.7" x2="286.5" y2="1203.7" stroke="#FF0000" stroke-width="4"/><path d="M266.6,1195.3 L275.4,1212.1 L257.8,1212.1 Z" fill="#FF0000" stroke="#000" stroke-width="3.3" stroke-linejoin="round"/><text textLength="61.46" lengthAdjust="spacingAndGlyphs" transform="translate(289.5,1213.5) scale(1.04,1)" font-family='Carlito, Calibri, "Liberation Sans", sans-serif' font-weight="bold" font-size="30" fill="#000" text-anchor="start">SR11</text>
<line x1="249" y1="1241.0" x2="286.5" y2="1241.0" stroke="#00B0F0" stroke-width="4"/><circle cx="266.6" cy="1241.0" r="8.7" fill="#00B0F0" stroke="#000" stroke-width="3.1"/><text textLength="60.99" lengthAdjust="spacingAndGlyphs" transform="translate(289.5,1250.8) scale(1.04,1)" font-family='Carlito, Calibri, "Liberation Sans", sans-serif' font-weight="bold" font-size="30" fill="#000" text-anchor="start">SK10</text>
<line x1="249" y1="1278.2" x2="286.5" y2="1278.2" stroke="#E22CE2" stroke-width="4"/><path d="M266.6,1269.8 L275.4,1286.6 L257.8,1286.6 Z" fill="#E22CE2" stroke="#000" stroke-width="3.3" stroke-linejoin="round"/><text textLength="63.21" lengthAdjust="spacingAndGlyphs" transform="translate(289.5,1288.0) scale(1.04,1)" font-family='Carlito, Calibri, "Liberation Sans", sans-serif' font-weight="bold" font-size="30" fill="#000" text-anchor="start">KK13</text>
<line x1="374.7" y1="1154" x2="374.7" y2="1292" stroke="#000" stroke-width="3"/>
<text textLength="291.85" lengthAdjust="spacingAndGlyphs" transform="translate(397.3,1235.2) scale(1.025,1)" font-family='Carlito, Calibri, "Liberation Sans", sans-serif' font-weight="bold" font-size="31" fill="#000" text-anchor="start">VP15-derived peptides</text>
<line x1="1287" y1="1177.0" x2="1324" y2="1177.0" stroke="#000" stroke-width="4"/><circle cx="1305.3" cy="1177.0" r="8.7" fill="#fff" stroke="#000" stroke-width="3.1"/><text textLength="46.96" lengthAdjust="spacingAndGlyphs" transform="translate(1327,1186.8) scale(1.04,1)" font-family='Carlito, Calibri, "Liberation Sans", sans-serif' font-weight="bold" font-size="30" fill="#000" text-anchor="start">PBS</text>
<line x1="1287" y1="1226.8" x2="1324" y2="1226.8" stroke="#0070C0" stroke-width="4"/><rect x="1296.4" y="1217.9" width="17.8" height="17.8" fill="#0070C0" stroke="#000" stroke-width="3.2"/><text textLength="130.17" lengthAdjust="spacingAndGlyphs" transform="translate(1327,1236.6) scale(1.04,1)" font-family='Carlito, Calibri, "Liberation Sans", sans-serif' font-weight="bold" font-size="30" fill="#000" text-anchor="start">VP15<tspan font-size="21" dy="6">(26–57)</tspan></text>
<line x1="1287" y1="1276.7" x2="1324" y2="1276.7" stroke="#FF0000" stroke-width="4"/><path d="M1305.3,1268.3 L1314.1,1285.1 L1296.5,1285.1 Z" fill="#FF0000" stroke="#000" stroke-width="3.3" stroke-linejoin="round"/><text textLength="61.46" lengthAdjust="spacingAndGlyphs" transform="translate(1327,1286.5) scale(1.04,1)" font-family='Carlito, Calibri, "Liberation Sans", sans-serif' font-weight="bold" font-size="30" fill="#000" text-anchor="start">SR11</text>
<defs>
<linearGradient id="gb" x1="0" y1="0.6" x2="1" y2="0.4"><stop offset="0" stop-color="#A87638"/><stop offset="0.12" stop-color="#B08242"/><stop offset="0.5" stop-color="#DCB672"/><stop offset="0.78" stop-color="#F8E29C"/><stop offset="1" stop-color="#FBE8A6"/></linearGradient>
<linearGradient id="gt" x1="0.1" y1="0.1" x2="0.8" y2="0.9"><stop offset="0" stop-color="#B08040"/><stop offset="0.3" stop-color="#C89A58"/><stop offset="0.55" stop-color="#E6C47E"/><stop offset="0.75" stop-color="#FADF94"/><stop offset="1" stop-color="#FBE6A2"/></linearGradient>
<linearGradient id="gf" x1="0" y1="0" x2="0" y2="1"><stop offset="0" stop-color="#FBE6A0"/><stop offset="0.45" stop-color="#F3D48C"/><stop offset="1" stop-color="#CF9A4E"/></linearGradient><linearGradient id="gfh" x1="0" y1="0" x2="1" y2="0"><stop offset="0" stop-color="#FBE6A0"/><stop offset="0.45" stop-color="#F3D48C"/><stop offset="1" stop-color="#CF9A4E"/></linearGradient>
<linearGradient id="ggb" x1="0" y1="0.25" x2="1" y2="0.75"><stop offset="0" stop-color="#6E6E6E"/><stop offset="0.5" stop-color="#A8A8A8"/><stop offset="1" stop-color="#E2E2E2"/></linearGradient>
<linearGradient id="ggt" x1="0" y1="0.3" x2="1" y2="0.7"><stop offset="0" stop-color="#6E6E6E"/><stop offset="0.5" stop-color="#ABABAB"/><stop offset="1" stop-color="#E2E2E2"/></linearGradient>
<linearGradient id="ggf" x1="0" y1="0" x2="0" y2="1"><stop offset="0" stop-color="#E6E6E6"/><stop offset="1" stop-color="#9A9A9A"/></linearGradient><linearGradient id="ggfh" x1="0" y1="0" x2="1" y2="0"><stop offset="0" stop-color="#E6E6E6"/><stop offset="1" stop-color="#9A9A9A"/></linearGradient>
</defs>
<g><path d="M1815.2,76.0 C1814.4,74.5 1811.4,70.3 1810.3,67.0 C1809.2,63.7 1808.6,59.5 1808.6,56.0 C1808.6,52.5 1808.8,49.4 1810.5,46.0 C1812.2,42.6 1817.7,37.4 1819.1,35.7 " fill="none" stroke="#000" stroke-width="2"/>
<path d="M1813.8,76.0 C1812.4,74.8 1808.5,70.8 1805.4,69.0 C1802.3,67.2 1798.7,65.6 1795.0,64.9 C1791.3,64.2 1786.7,64.1 1783.0,65.0 C1779.3,65.9 1774.3,69.3 1772.6,70.2 " fill="none" stroke="#000" stroke-width="2"/>
<line x1="1837.5" y1="63.8" x2="1838.8" y2="84" stroke="#000" stroke-width="2.2"/>
<line x1="1844.4" y1="72.5" x2="1845.5" y2="88" stroke="#000" stroke-width="2.2"/>
<line x1="1849.3" y1="78.8" x2="1849.9" y2="93" stroke="#000" stroke-width="2.2"/>
<line x1="1796" y1="94.8" x2="1813" y2="99.5" stroke="#000" stroke-width="2.2"/>
<line x1="1802" y1="103.9" x2="1815.5" y2="107.8" stroke="#000" stroke-width="2.2"/>
<line x1="1806.5" y1="110.1" x2="1818" y2="113.5" stroke="#000" stroke-width="2.2"/>
<path d="M1876.8,146.8 L1897.6,148.6 L1890.6,165.4 L1875.2,153.6 Z" fill="url(#gfh)" stroke="#000" stroke-width="2.2" stroke-linejoin="round"/>
<path d="M1864,156.4 L1872.6,156.4 L1878.8,174.2 L1860.2,175.2 Z" fill="url(#gf)" stroke="#000" stroke-width="2.2" stroke-linejoin="round"/>
<path d="M1866.8,174 V168.5 M1871.2,174 V168.5 M1866.3,171 H1871.7" stroke="#000" stroke-width="1.6" fill="none"/>
<path d="M1893.8,152.6 H1889 M1892.6,158.2 H1888.6 M1889,152.6 L1888.6,158.5" stroke="#000" stroke-width="1.6" fill="none"/>
<ellipse cx="0" cy="0" rx="30.4" ry="15.9" transform="translate(1834.15,102.5) rotate(54)" fill="url(#gb)" stroke="#000" stroke-width="2.4"/>
<path d="M1843.9,118.5 C1845.2,117.6 1848.1,117.1 1850.3,117.1 C1852.5,117.1 1855.1,117.7 1857.2,118.5 C1859.3,119.3 1861.2,120.5 1863.1,121.7 C1865.0,122.8 1866.9,123.8 1868.5,125.3 C1870.1,126.9 1871.5,128.9 1872.6,130.8 C1873.7,132.8 1874.5,135.1 1875.0,137.2 C1875.4,139.3 1875.3,141.6 1875.1,143.6 C1875.0,145.5 1874.7,147.5 1874.0,149.1 C1873.3,150.7 1872.2,152.2 1870.8,153.1 C1869.5,154.0 1867.5,154.4 1865.8,154.5 C1864.0,154.6 1862.2,154.1 1860.4,153.6 C1858.5,153.0 1856.6,152.4 1854.9,151.3 C1853.1,150.3 1851.4,148.8 1849.9,147.2 C1848.4,145.6 1846.9,143.8 1845.8,141.8 C1844.6,139.8 1843.7,137.5 1843.1,135.3 C1842.4,133.2 1842.0,131.1 1841.9,129.0 C1841.7,126.8 1842.0,124.2 1842.3,122.4 C1842.7,120.7 1842.6,119.4 1843.9,118.5 Z" fill="url(#gt)" stroke="#000" stroke-width="2.4"/>
<path d="M1846.3,138.8 C1846.8,137.8 1848.0,134.7 1849.0,133.0 C1850.0,131.3 1850.5,129.9 1852.2,128.5 C1854.0,127.1 1857.2,125.4 1859.5,124.6 C1861.8,123.8 1864.6,123.4 1866.3,123.4 C1868.0,123.4 1869.0,124.6 1869.5,124.8 " fill="none" stroke="#000" stroke-width="2.2"/>
<path d="M1854.1,148.5 C1854.5,147.6 1855.6,144.6 1856.5,143.0 C1857.4,141.4 1858.0,140.3 1859.5,139.2 C1861.0,138.1 1862.8,137.0 1865.3,136.3 C1867.8,135.7 1873.2,135.5 1874.8,135.3 " fill="none" stroke="#000" stroke-width="2.2"/>
<circle cx="1823.5" cy="71.8" r="6" fill="#000"/><circle cx="1807.6" cy="83.6" r="5.6" fill="#000"/></g>
<g transform="translate(1889.5,83.75) rotate(33)">
<line x1="0" y1="26" x2="0" y2="56" stroke="#000" stroke-width="2.2"/>
<rect x="-5" y="20.5" width="10" height="7" fill="#fff" stroke="#000" stroke-width="2"/>
<rect x="-18.9" y="-46" width="37.8" height="66.8" fill="#fff" stroke="#000" stroke-width="2.6"/>
<rect x="-18.9" y="-20.75" width="37.8" height="41.5" fill="#BDD7EE" stroke="#000" stroke-width="2.6"/>
<rect x="-5" y="-48" width="10" height="4" fill="#fff"/>
<line x1="-4.6" y1="-20.75" x2="-4.6" y2="-69" stroke="#000" stroke-width="2.4"/>
<line x1="4.6" y1="-20.75" x2="4.6" y2="-69" stroke="#000" stroke-width="2.4"/>
<line x1="-19.6" y1="-69.2" x2="19.6" y2="-69.2" stroke="#000" stroke-width="2.6"/>
<line x1="-5.4" y1="-13.0" x2="5.4" y2="-13.0" stroke="#000" stroke-width="3.2" stroke-linecap="round"/>
<line x1="-5.4" y1="-6.6" x2="5.4" y2="-6.6" stroke="#000" stroke-width="3.2" stroke-linecap="round"/>
<line x1="-5.4" y1="-0.2" x2="5.4" y2="-0.2" stroke="#000" stroke-width="3.2" stroke-linecap="round"/>
<line x1="-5.4" y1="6.2" x2="5.4" y2="6.2" stroke="#000" stroke-width="3.2" stroke-linecap="round"/>
<line x1="-5.4" y1="12.6" x2="5.4" y2="12.6" stroke="#000" stroke-width="3.2" stroke-linecap="round"/>
</g>
<g transform="translate(0,155.5)"><path d="M1815.2,76.0 C1814.4,74.5 1811.4,70.3 1810.3,67.0 C1809.2,63.7 1808.6,59.5 1808.6,56.0 C1808.6,52.5 1808.8,49.4 1810.5,46.0 C1812.2,42.6 1817.7,37.4 1819.1,35.7 " fill="none" stroke="#000" stroke-width="2"/>
<path d="M1813.8,76.0 C1812.4,74.8 1808.5,70.8 1805.4,69.0 C1802.3,67.2 1798.7,65.6 1795.0,64.9 C1791.3,64.2 1786.7,64.1 1783.0,65.0 C1779.3,65.9 1774.3,69.3 1772.6,70.2 " fill="none" stroke="#000" stroke-width="2"/>
<line x1="1837.5" y1="63.8" x2="1838.8" y2="84" stroke="#000" stroke-width="2.2"/>
<line x1="1844.4" y1="72.5" x2="1845.5" y2="88" stroke="#000" stroke-width="2.2"/>
<line x1="1849.3" y1="78.8" x2="1849.9" y2="93" stroke="#000" stroke-width="2.2"/>
<line x1="1796" y1="94.8" x2="1813" y2="99.5" stroke="#000" stroke-width="2.2"/>
<line x1="1802" y1="103.9" x2="1815.5" y2="107.8" stroke="#000" stroke-width="2.2"/>
<line x1="1806.5" y1="110.1" x2="1818" y2="113.5" stroke="#000" stroke-width="2.2"/>
<path d="M1876.8,146.8 L1897.6,148.6 L1890.6,165.4 L1875.2,153.6 Z" fill="url(#gfh)" stroke="#000" stroke-width="2.2" stroke-linejoin="round"/>
<path d="M1864,156.4 L1872.6,156.4 L1878.8,174.2 L1860.2,175.2 Z" fill="url(#gf)" stroke="#000" stroke-width="2.2" stroke-linejoin="round"/>
<path d="M1866.8,174 V168.5 M1871.2,174 V168.5 M1866.3,171 H1871.7" stroke="#000" stroke-width="1.6" fill="none"/>
<path d="M1893.8,152.6 H1889 M1892.6,158.2 H1888.6 M1889,152.6 L1888.6,158.5" stroke="#000" stroke-width="1.6" fill="none"/>
<ellipse cx="0" cy="0" rx="30.4" ry="15.9" transform="translate(1834.15,102.5) rotate(54)" fill="url(#gb)" stroke="#000" stroke-width="2.4"/>
<path d="M1843.9,118.5 C1845.2,117.6 1848.1,117.1 1850.3,117.1 C1852.5,117.1 1855.1,117.7 1857.2,118.5 C1859.3,119.3 1861.2,120.5 1863.1,121.7 C1865.0,122.8 1866.9,123.8 1868.5,125.3 C1870.1,126.9 1871.5,128.9 1872.6,130.8 C1873.7,132.8 1874.5,135.1 1875.0,137.2 C1875.4,139.3 1875.3,141.6 1875.1,143.6 C1875.0,145.5 1874.7,147.5 1874.0,149.1 C1873.3,150.7 1872.2,152.2 1870.8,153.1 C1869.5,154.0 1867.5,154.4 1865.8,154.5 C1864.0,154.6 1862.2,154.1 1860.4,153.6 C1858.5,153.0 1856.6,152.4 1854.9,151.3 C1853.1,150.3 1851.4,148.8 1849.9,147.2 C1848.4,145.6 1846.9,143.8 1845.8,141.8 C1844.6,139.8 1843.7,137.5 1843.1,135.3 C1842.4,133.2 1842.0,131.1 1841.9,129.0 C1841.7,126.8 1842.0,124.2 1842.3,122.4 C1842.7,120.7 1842.6,119.4 1843.9,118.5 Z" fill="url(#gt)" stroke="#000" stroke-width="2.4"/>
<path d="M1846.3,138.8 C1846.8,137.8 1848.0,134.7 1849.0,133.0 C1850.0,131.3 1850.5,129.9 1852.2,128.5 C1854.0,127.1 1857.2,125.4 1859.5,124.6 C1861.8,123.8 1864.6,123.4 1866.3,123.4 C1868.0,123.4 1869.0,124.6 1869.5,124.8 " fill="none" stroke="#000" stroke-width="2.2"/>
<path d="M1854.1,148.5 C1854.5,147.6 1855.6,144.6 1856.5,143.0 C1857.4,141.4 1858.0,140.3 1859.5,139.2 C1861.0,138.1 1862.8,137.0 1865.3,136.3 C1867.8,135.7 1873.2,135.5 1874.8,135.3 " fill="none" stroke="#000" stroke-width="2.2"/>
<circle cx="1823.5" cy="71.8" r="6" fill="#000"/><circle cx="1807.6" cy="83.6" r="5.6" fill="#000"/></g>
<g transform="translate(0,155.5)"><g transform="translate(1889.5,83.75) rotate(33)">
<line x1="0" y1="26" x2="0" y2="56" stroke="#000" stroke-width="2.2"/>
<rect x="-5" y="20.5" width="10" height="7" fill="#fff" stroke="#000" stroke-width="2"/>
<rect x="-18.9" y="-46" width="37.8" height="66.8" fill="#fff" stroke="#000" stroke-width="2.6"/>
<rect x="-18.9" y="-20.75" width="37.8" height="41.5" fill="#BDD7EE" stroke="#000" stroke-width="2.6"/>
<rect x="-5" y="-48" width="10" height="4" fill="#fff"/>
<line x1="-4.6" y1="-20.75" x2="-4.6" y2="-69" stroke="#000" stroke-width="2.4"/>
<line x1="4.6" y1="-20.75" x2="4.6" y2="-69" stroke="#000" stroke-width="2.4"/>
<line x1="-19.6" y1="-69.2" x2="19.6" y2="-69.2" stroke="#000" stroke-width="2.6"/>
<line x1="-5.4" y1="-13.0" x2="5.4" y2="-13.0" stroke="#000" stroke-width="3.2" stroke-linecap="round"/>
<line x1="-5.4" y1="-6.6" x2="5.4" y2="-6.6" stroke="#000" stroke-width="3.2" stroke-linecap="round"/>
<line x1="-5.4" y1="-0.2" x2="5.4" y2="-0.2" stroke="#000" stroke-width="3.2" stroke-linecap="round"/>
<line x1="-5.4" y1="6.2" x2="5.4" y2="6.2" stroke="#000" stroke-width="3.2" stroke-linecap="round"/>
<line x1="-5.4" y1="12.6" x2="5.4" y2="12.6" stroke="#000" stroke-width="3.2" stroke-linecap="round"/>
</g></g>
<g transform="translate(-4.5,313)"><path d="M1815.2,76.0 C1814.4,74.5 1811.4,70.3 1810.3,67.0 C1809.2,63.7 1808.6,59.5 1808.6,56.0 C1808.6,52.5 1808.8,49.4 1810.5,46.0 C1812.2,42.6 1817.7,37.4 1819.1,35.7 " fill="none" stroke="#000" stroke-width="2"/>
<path d="M1813.8,76.0 C1812.4,74.8 1808.5,70.8 1805.4,69.0 C1802.3,67.2 1798.7,65.6 1795.0,64.9 C1791.3,64.2 1786.7,64.1 1783.0,65.0 C1779.3,65.9 1774.3,69.3 1772.6,70.2 " fill="none" stroke="#000" stroke-width="2"/>
<line x1="1837.5" y1="63.8" x2="1838.8" y2="84" stroke="#000" stroke-width="2.2"/>
<line x1="1844.4" y1="72.5" x2="1845.5" y2="88" stroke="#000" stroke-width="2.2"/>
<line x1="1849.3" y1="78.8" x2="1849.9" y2="93" stroke="#000" stroke-width="2.2"/>
<line x1="1796" y1="94.8" x2="1813" y2="99.5" stroke="#000" stroke-width="2.2"/>
<line x1="1802" y1="103.9" x2="1815.5" y2="107.8" stroke="#000" stroke-width="2.2"/>
<line x1="1806.5" y1="110.1" x2="1818" y2="113.5" stroke="#000" stroke-width="2.2"/>
<path d="M1876.8,146.8 L1897.6,148.6 L1890.6,165.4 L1875.2,153.6 Z" fill="url(#gfh)" stroke="#000" stroke-width="2.2" stroke-linejoin="round"/>
<path d="M1864,156.4 L1872.6,156.4 L1878.8,174.2 L1860.2,175.2 Z" fill="url(#gf)" stroke="#000" stroke-width="2.2" stroke-linejoin="round"/>
<path d="M1866.8,174 V168.5 M1871.2,174 V168.5 M1866.3,171 H1871.7" stroke="#000" stroke-width="1.6" fill="none"/>
<path d="M1893.8,152.6 H1889 M1892.6,158.2 H1888.6 M1889,152.6 L1888.6,158.5" stroke="#000" stroke-width="1.6" fill="none"/>
<ellipse cx="0" cy="0" rx="30.4" ry="15.9" transform="translate(1834.15,102.5) rotate(54)" fill="url(#gb)" stroke="#000" stroke-width="2.4"/>
<path d="M1843.9,118.5 C1845.2,117.6 1848.1,117.1 1850.3,117.1 C1852.5,117.1 1855.1,117.7 1857.2,118.5 C1859.3,119.3 1861.2,120.5 1863.1,121.7 C1865.0,122.8 1866.9,123.8 1868.5,125.3 C1870.1,126.9 1871.5,128.9 1872.6,130.8 C1873.7,132.8 1874.5,135.1 1875.0,137.2 C1875.4,139.3 1875.3,141.6 1875.1,143.6 C1875.0,145.5 1874.7,147.5 1874.0,149.1 C1873.3,150.7 1872.2,152.2 1870.8,153.1 C1869.5,154.0 1867.5,154.4 1865.8,154.5 C1864.0,154.6 1862.2,154.1 1860.4,153.6 C1858.5,153.0 1856.6,152.4 1854.9,151.3 C1853.1,150.3 1851.4,148.8 1849.9,147.2 C1848.4,145.6 1846.9,143.8 1845.8,141.8 C1844.6,139.8 1843.7,137.5 1843.1,135.3 C1842.4,133.2 1842.0,131.1 1841.9,129.0 C1841.7,126.8 1842.0,124.2 1842.3,122.4 C1842.7,120.7 1842.6,119.4 1843.9,118.5 Z" fill="url(#gt)" stroke="#000" stroke-width="2.4"/>
<path d="M1846.3,138.8 C1846.8,137.8 1848.0,134.7 1849.0,133.0 C1850.0,131.3 1850.5,129.9 1852.2,128.5 C1854.0,127.1 1857.2,125.4 1859.5,124.6 C1861.8,123.8 1864.6,123.4 1866.3,123.4 C1868.0,123.4 1869.0,124.6 1869.5,124.8 " fill="none" stroke="#000" stroke-width="2.2"/>
<path d="M1854.1,148.5 C1854.5,147.6 1855.6,144.6 1856.5,143.0 C1857.4,141.4 1858.0,140.3 1859.5,139.2 C1861.0,138.1 1862.8,137.0 1865.3,136.3 C1867.8,135.7 1873.2,135.5 1874.8,135.3 " fill="none" stroke="#000" stroke-width="2.2"/>
<circle cx="1823.5" cy="71.8" r="6" fill="#000"/><circle cx="1807.6" cy="83.6" r="5.6" fill="#000"/></g>
<g transform="translate(3,469)"><path d="M1815.2,76.0 C1814.4,74.5 1811.4,70.3 1810.3,67.0 C1809.2,63.7 1808.6,59.5 1808.6,56.0 C1808.6,52.5 1808.8,49.4 1810.5,46.0 C1812.2,42.6 1817.7,37.4 1819.1,35.7 " fill="none" stroke="#000" stroke-width="2"/>
<path d="M1813.8,76.0 C1812.4,74.8 1808.5,70.8 1805.4,69.0 C1802.3,67.2 1798.7,65.6 1795.0,64.9 C1791.3,64.2 1786.7,64.1 1783.0,65.0 C1779.3,65.9 1774.3,69.3 1772.6,70.2 " fill="none" stroke="#000" stroke-width="2"/>
<line x1="1837.5" y1="63.8" x2="1838.8" y2="84" stroke="#000" stroke-width="2.2"/>
<line x1="1844.4" y1="72.5" x2="1845.5" y2="88" stroke="#000" stroke-width="2.2"/>
<line x1="1849.3" y1="78.8" x2="1849.9" y2="93" stroke="#000" stroke-width="2.2"/>
<line x1="1796" y1="94.8" x2="1813" y2="99.5" stroke="#000" stroke-width="2.2"/>
<line x1="1802" y1="103.9" x2="1815.5" y2="107.8" stroke="#000" stroke-width="2.2"/>
<line x1="1806.5" y1="110.1" x2="1818" y2="113.5" stroke="#000" stroke-width="2.2"/>
<path d="M1876.8,146.8 L1897.6,148.6 L1890.6,165.4 L1875.2,153.6 Z" fill="url(#gfh)" stroke="#000" stroke-width="2.2" stroke-linejoin="round"/>
<path d="M1864,156.4 L1872.6,156.4 L1878.8,174.2 L1860.2,175.2 Z" fill="url(#gf)" stroke="#000" stroke-width="2.2" stroke-linejoin="round"/>
<path d="M1866.8,174 V168.5 M1871.2,174 V168.5 M1866.3,171 H1871.7" stroke="#000" stroke-width="1.6" fill="none"/>
<path d="M1893.8,152.6 H1889 M1892.6,158.2 H1888.6 M1889,152.6 L1888.6,158.5" stroke="#000" stroke-width="1.6" fill="none"/>
<ellipse cx="0" cy="0" rx="30.4" ry="15.9" transform="translate(1834.15,102.5) rotate(54)" fill="url(#gb)" stroke="#000" stroke-width="2.4"/>
<path d="M1843.9,118.5 C1845.2,117.6 1848.1,117.1 1850.3,117.1 C1852.5,117.1 1855.1,117.7 1857.2,118.5 C1859.3,119.3 1861.2,120.5 1863.1,121.7 C1865.0,122.8 1866.9,123.8 1868.5,125.3 C1870.1,126.9 1871.5,128.9 1872.6,130.8 C1873.7,132.8 1874.5,135.1 1875.0,137.2 C1875.4,139.3 1875.3,141.6 1875.1,143.6 C1875.0,145.5 1874.7,147.5 1874.0,149.1 C1873.3,150.7 1872.2,152.2 1870.8,153.1 C1869.5,154.0 1867.5,154.4 1865.8,154.5 C1864.0,154.6 1862.2,154.1 1860.4,153.6 C1858.5,153.0 1856.6,152.4 1854.9,151.3 C1853.1,150.3 1851.4,148.8 1849.9,147.2 C1848.4,145.6 1846.9,143.8 1845.8,141.8 C1844.6,139.8 1843.7,137.5 1843.1,135.3 C1842.4,133.2 1842.0,131.1 1841.9,129.0 C1841.7,126.8 1842.0,124.2 1842.3,122.4 C1842.7,120.7 1842.6,119.4 1843.9,118.5 Z" fill="url(#gt)" stroke="#000" stroke-width="2.4"/>
<path d="M1846.3,138.8 C1846.8,137.8 1848.0,134.7 1849.0,133.0 C1850.0,131.3 1850.5,129.9 1852.2,128.5 C1854.0,127.1 1857.2,125.4 1859.5,124.6 C1861.8,123.8 1864.6,123.4 1866.3,123.4 C1868.0,123.4 1869.0,124.6 1869.5,124.8 " fill="none" stroke="#000" stroke-width="2.2"/>
<path d="M1854.1,148.5 C1854.5,147.6 1855.6,144.6 1856.5,143.0 C1857.4,141.4 1858.0,140.3 1859.5,139.2 C1861.0,138.1 1862.8,137.0 1865.3,136.3 C1867.8,135.7 1873.2,135.5 1874.8,135.3 " fill="none" stroke="#000" stroke-width="2.2"/>
<circle cx="1823.5" cy="71.8" r="6" fill="#000"/><circle cx="1807.6" cy="83.6" r="5.6" fill="#000"/></g>
<g transform="translate(1930.4,588.9) rotate(179) translate(-1834.15,-102.5)"><path d="M1815.2,76.0 C1814.4,74.5 1811.4,70.3 1810.3,67.0 C1809.2,63.7 1808.6,59.5 1808.6,56.0 C1808.6,52.5 1808.8,49.4 1810.5,46.0 C1812.2,42.6 1817.7,37.4 1819.1,35.7 " fill="none" stroke="#000" stroke-width="2"/>
<path d="M1813.8,76.0 C1812.4,74.8 1808.5,70.8 1805.4,69.0 C1802.3,67.2 1798.7,65.6 1795.0,64.9 C1791.3,64.2 1786.7,64.1 1783.0,65.0 C1779.3,65.9 1774.3,69.3 1772.6,70.2 " fill="none" stroke="#000" stroke-width="2"/>
<line x1="1837.5" y1="63.8" x2="1838.8" y2="84" stroke="#000" stroke-width="2.2"/>
<line x1="1844.4" y1="72.5" x2="1845.5" y2="88" stroke="#000" stroke-width="2.2"/>
<line x1="1849.3" y1="78.8" x2="1849.9" y2="93" stroke="#000" stroke-width="2.2"/>
<line x1="1796" y1="94.8" x2="1813" y2="99.5" stroke="#000" stroke-width="2.2"/>
<line x1="1802" y1="103.9" x2="1815.5" y2="107.8" stroke="#000" stroke-width="2.2"/>
<line x1="1806.5" y1="110.1" x2="1818" y2="113.5" stroke="#000" stroke-width="2.2"/>
<path d="M1876.8,146.8 L1897.6,148.6 L1890.6,165.4 L1875.2,153.6 Z" fill="url(#ggfh)" stroke="#000" stroke-width="2.2" stroke-linejoin="round"/>
<path d="M1864,156.4 L1872.6,156.4 L1878.8,174.2 L1860.2,175.2 Z" fill="url(#ggf)" stroke="#000" stroke-width="2.2" stroke-linejoin="round"/>
<path d="M1866.8,174 V168.5 M1871.2,174 V168.5 M1866.3,171 H1871.7" stroke="#000" stroke-width="1.6" fill="none"/>
<path d="M1893.8,152.6 H1889 M1892.6,158.2 H1888.6 M1889,152.6 L1888.6,158.5" stroke="#000" stroke-width="1.6" fill="none"/>
<ellipse cx="0" cy="0" rx="30.4" ry="15.9" transform="translate(1834.15,102.5) rotate(54)" fill="url(#ggb)" stroke="#000" stroke-width="2.4"/>
<path d="M1843.9,118.5 C1845.2,117.6 1848.1,117.1 1850.3,117.1 C1852.5,117.1 1855.1,117.7 1857.2,118.5 C1859.3,119.3 1861.2,120.5 1863.1,121.7 C1865.0,122.8 1866.9,123.8 1868.5,125.3 C1870.1,126.9 1871.5,128.9 1872.6,130.8 C1873.7,132.8 1874.5,135.1 1875.0,137.2 C1875.4,139.3 1875.3,141.6 1875.1,143.6 C1875.0,145.5 1874.7,147.5 1874.0,149.1 C1873.3,150.7 1872.2,152.2 1870.8,153.1 C1869.5,154.0 1867.5,154.4 1865.8,154.5 C1864.0,154.6 1862.2,154.1 1860.4,153.6 C1858.5,153.0 1856.6,152.4 1854.9,151.3 C1853.1,150.3 1851.4,148.8 1849.9,147.2 C1848.4,145.6 1846.9,143.8 1845.8,141.8 C1844.6,139.8 1843.7,137.5 1843.1,135.3 C1842.4,133.2 1842.0,131.1 1841.9,129.0 C1841.7,126.8 1842.0,124.2 1842.3,122.4 C1842.7,120.7 1842.6,119.4 1843.9,118.5 Z" fill="url(#ggt)" stroke="#000" stroke-width="2.4"/>
<path d="M1846.3,138.8 C1846.8,137.8 1848.0,134.7 1849.0,133.0 C1850.0,131.3 1850.5,129.9 1852.2,128.5 C1854.0,127.1 1857.2,125.4 1859.5,124.6 C1861.8,123.8 1864.6,123.4 1866.3,123.4 C1868.0,123.4 1869.0,124.6 1869.5,124.8 " fill="none" stroke="#000" stroke-width="2.2"/>
<path d="M1854.1,148.5 C1854.5,147.6 1855.6,144.6 1856.5,143.0 C1857.4,141.4 1858.0,140.3 1859.5,139.2 C1861.0,138.1 1862.8,137.0 1865.3,136.3 C1867.8,135.7 1873.2,135.5 1874.8,135.3 " fill="none" stroke="#000" stroke-width="2.2"/>
<circle cx="1823.5" cy="71.8" r="6" fill="#000"/><circle cx="1807.6" cy="83.6" r="5.6" fill="#000"/></g>
<path d="M1939.6,293.4 C1939.9,294.6 1940.7,298.4 1941.7,300.9 C1942.8,303.4 1944.1,306.4 1945.9,308.4 C1947.7,310.3 1949.9,311.7 1952.6,312.6 C1955.2,313.5 1959.1,313.1 1961.8,313.8 C1964.5,314.5 1967.0,315.8 1968.5,316.8 C1970.0,317.9 1970.5,318.7 1970.8,320.1 C1971.1,321.5 1971.0,323.7 1970.5,325.1 C1970.0,326.5 1969.2,327.7 1968.0,328.5 C1966.8,329.3 1963.8,329.8 1963.0,330.1 " fill="none" stroke="#1A1A1A" stroke-width="1.7"/>
<ellipse cx="0" cy="0" rx="28" ry="15.2" transform="translate(1939.45,349.2) rotate(-39.7)" fill="#D9D9D9" stroke="#2E2E2E" stroke-width="4.2"/><ellipse cx="0" cy="0" rx="28" ry="15.2" transform="translate(1939.45,349.2) rotate(-39.7)" fill="none" stroke="#9A9A9A" stroke-width="1.1"/><ellipse cx="0" cy="0" rx="25.2" ry="12.399999999999999" transform="translate(1939.45,349.2) rotate(-39.7)" fill="none" stroke="#FFFFFF" stroke-width="1.2"/>
<path d="M1973.9,427.7 C1974.9,428.5 1978.1,431.6 1980.1,432.7 C1982.0,433.8 1984.3,434.5 1985.6,434.1 C1986.9,433.7 1987.3,432.5 1987.9,430.4 C1988.5,428.3 1989.3,424.4 1989.3,421.3 C1989.3,418.2 1987.8,415.2 1987.9,412.1 C1988.1,409.0 1989.0,405.4 1990.2,402.9 C1991.4,400.4 1993.3,398.4 1995.2,397.0 C1997.1,395.6 2000.5,395.1 2001.6,394.7 " fill="none" stroke="#1A1A1A" stroke-width="1.7"/>
<ellipse cx="0" cy="0" rx="28.1" ry="15.1" transform="translate(1949.4,410.85) rotate(31.2)" fill="#D9D9D9" stroke="#2E2E2E" stroke-width="4.2"/><ellipse cx="0" cy="0" rx="28.1" ry="15.1" transform="translate(1949.4,410.85) rotate(31.2)" fill="none" stroke="#9A9A9A" stroke-width="1.1"/><ellipse cx="0" cy="0" rx="25.3" ry="12.3" transform="translate(1949.4,410.85) rotate(31.2)" fill="none" stroke="#FFFFFF" stroke-width="1.2"/>
<path d="M1899.2,376.3 L1916.4,386 L1903.3,391.8 L1905.4,397.4 L1892.2,403.7 L1894.3,407.2 L1864.6,422.5 L1882.5,405.8 L1879.4,399.9 L1891.5,393.5 L1888,388.4 Z" fill="#FF0000" stroke="#000" stroke-width="1.5" stroke-linejoin="miter"/>
<line x1="1734" y1="77" x2="1734" y2="612" stroke="#000" stroke-width="8.5"/>
<path d="M1720.7,610 L1746.3,610 L1733.5,636.5 Z" fill="#000"/>
<path d="M1714.2,85.8 L1714.2,131.5 L1774.3,108.3 Z" fill="#00B050" stroke="#000" stroke-width="5" stroke-linejoin="miter" stroke-miterlimit="10"/>
<path d="M1714.2,241.4 L1714.2,287.4 L1774.3,263.3 Z" fill="#00B050" stroke="#000" stroke-width="5" stroke-linejoin="miter" stroke-miterlimit="10"/>
<path d="M1714.2,411.2 L1714.2,456.4 L1774.3,433.2 Z" fill="#FFC000" stroke="#000" stroke-width="5" stroke-linejoin="miter" stroke-miterlimit="10"/>
<path d="M1714.2,555.0 L1714.2,601.2 L1774.3,577.4 Z" fill="#C00000" stroke="#000" stroke-width="5" stroke-linejoin="miter" stroke-miterlimit="10"/>
<rect x="1574.3" y="77" width="8.8" height="216.6" fill="#000"/>
<text textLength="34.20" lengthAdjust="spacingAndGlyphs" transform="translate(1446.5,55.7) scale(1.0,1)" font-family="Carlito, Calibri, &quot;Liberation Sans&quot;, sans-serif" font-weight="bold" font-size="61" fill="#000" text-anchor="start">B</text>
<text textLength="55.30" lengthAdjust="spacingAndGlyphs" transform="translate(1707,50.5) scale(1.0,1)" font-family="Carlito, Calibri, &quot;Liberation Sans&quot;, sans-serif" font-weight="bold" font-size="35" fill="#000" text-anchor="start">Day</text>
<text textLength="31.65" lengthAdjust="spacingAndGlyphs" transform="translate(1649.5,117) scale(1.08,1)" font-family="Carlito, Calibri, &quot;Liberation Sans&quot;, sans-serif" font-weight="bold" font-size="32" fill="#000" text-anchor="start">1<tspan font-size="21" dy="-9">st</tspan></text>
<text textLength="33.95" lengthAdjust="spacingAndGlyphs" transform="translate(1714,174.6) scale(1.06,1)" font-family="Carlito, Calibri, &quot;Liberation Sans&quot;, sans-serif" font-weight="bold" font-size="33.5" fill="#C00000" text-anchor="end">20</text>
<text textLength="62.90" lengthAdjust="spacingAndGlyphs" transform="translate(1714,214.5) scale(1.06,1)" font-family="Carlito, Calibri, &quot;Liberation Sans&quot;, sans-serif" font-weight="bold" font-size="33.5" fill="#C00000" text-anchor="end">days</text>
<text textLength="80.55" lengthAdjust="spacingAndGlyphs" transform="translate(1690.5,275) scale(1.06,1)" font-family="Carlito, Calibri, &quot;Liberation Sans&quot;, sans-serif" font-weight="bold" font-size="34" fill="#000" text-anchor="end">Boost</text>
<text textLength="33.95" lengthAdjust="spacingAndGlyphs" transform="translate(1712.5,339) scale(1.06,1)" font-family="Carlito, Calibri, &quot;Liberation Sans&quot;, sans-serif" font-weight="bold" font-size="33.5" fill="#C00000" text-anchor="end">10</text>
<text textLength="62.90" lengthAdjust="spacingAndGlyphs" transform="translate(1712.5,379) scale(1.06,1)" font-family="Carlito, Calibri, &quot;Liberation Sans&quot;, sans-serif" font-weight="bold" font-size="33.5" fill="#C00000" text-anchor="end">days</text>
<text textLength="163.87" lengthAdjust="spacingAndGlyphs" transform="translate(1684,440.5) scale(1.065,1)" font-family="Carlito, Calibri, &quot;Liberation Sans&quot;, sans-serif" font-weight="bold" font-size="34" fill="#000" text-anchor="end">Challenging</text>
<text textLength="172.77" lengthAdjust="spacingAndGlyphs" transform="translate(1715.5,519.8) scale(1.06,1)" font-family="Carlito, Calibri, &quot;Liberation Sans&quot;, sans-serif" font-weight="bold" font-size="34" fill="#C00000" text-anchor="end">Observation</text>
<text textLength="53.28" lengthAdjust="spacingAndGlyphs" transform="translate(1693.5,586) scale(1.06,1)" font-family="Carlito, Calibri, &quot;Liberation Sans&quot;, sans-serif" font-weight="bold" font-size="34" fill="#000" text-anchor="end">RPS</text>
<text textLength="203.99" lengthAdjust="spacingAndGlyphs" transform="translate(1553.5,292.5) rotate(-90) scale(1.04,1)" font-family="Carlito, Calibri, &quot;Liberation Sans&quot;, sans-serif" font-weight="bold" font-size="35.5">Immunization</text>
</svg>
</body></html>
